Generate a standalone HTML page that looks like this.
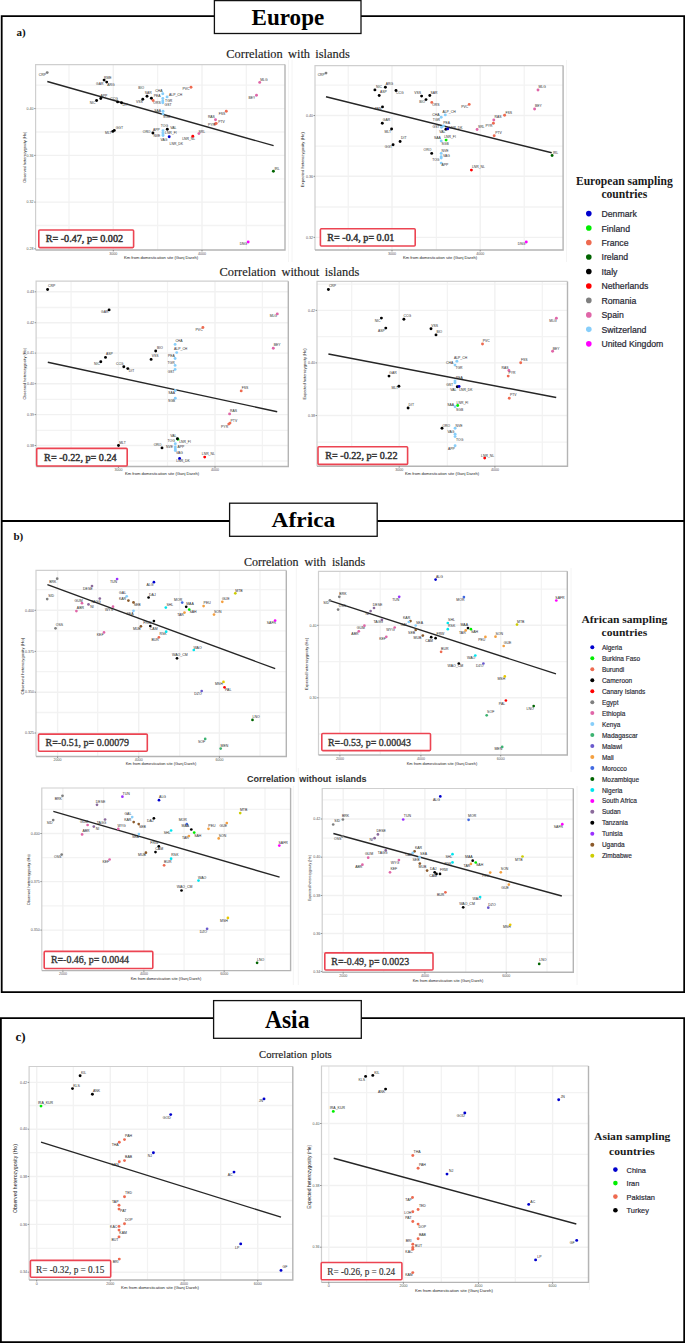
<!DOCTYPE html>
<html><head><meta charset="utf-8"><title>Correlation plots</title>
<style>
html,body{margin:0;padding:0;background:#fff;}
body{width:685px;height:1343px;overflow:hidden;position:relative;}
svg{position:absolute;left:0;top:0;display:block;}
</style></head><body>
<svg width="685" height="1343" viewBox="0 0 685 1343">
<rect x="0" y="0" width="685" height="1343" fill="#fff"/>
<line x1="288.5" y1="60" x2="288.5" y2="262" stroke="#f1f1f1" stroke-width="0.8" />
<line x1="292" y1="60" x2="292" y2="262" stroke="#f1f1f1" stroke-width="0.8" />
<line x1="566.5" y1="60" x2="566.5" y2="262" stroke="#f1f1f1" stroke-width="0.8" />
<line x1="296.3" y1="568" x2="296.3" y2="772" stroke="#f1f1f1" stroke-width="0.8" />
<line x1="571" y1="568" x2="571" y2="772" stroke="#f1f1f1" stroke-width="0.8" />
<line x1="293.3" y1="786" x2="293.3" y2="985" stroke="#f1f1f1" stroke-width="0.8" />
<line x1="298.3" y1="768" x2="298.3" y2="985" stroke="#f1f1f1" stroke-width="0.8" />
<line x1="577" y1="786" x2="577" y2="985" stroke="#f1f1f1" stroke-width="0.8" />
<line x1="589.4" y1="1115" x2="589.4" y2="1290" stroke="#f1f1f1" stroke-width="0.8" />
<path d="M1.7 992.1 L1.7 16.2 L684.2 16.2 L684.2 992.1 Z" stroke="#000" stroke-width="1.8" fill="none"/>
<line x1="1.7" y1="521" x2="684.2" y2="521" stroke="#000" stroke-width="1.8" />
<path d="M0.9 1342.1 L0.9 1018.2 L684.2 1018.2 L684.2 1342.1 Z" stroke="#000" stroke-width="1.8" fill="none"/>
<rect x="214.4" y="0.6" width="146.6" height="32.9" stroke="#111" stroke-width="1.3" fill="#fff" />
<text x="251.6" y="24.7" font-family="Liberation Serif" font-size="22.4" font-weight="bold" fill="#000" text-anchor="start" textLength="72.6" lengthAdjust="spacingAndGlyphs">Europe</text>
<rect x="229.6" y="503.2" width="147.6" height="33.099999999999966" stroke="#111" stroke-width="1.3" fill="#fff" />
<text x="271.6" y="526.6" font-family="Liberation Serif" font-size="22.0" font-weight="bold" fill="#000" text-anchor="start" textLength="63.6" lengthAdjust="spacingAndGlyphs">Africa</text>
<rect x="213.6" y="1000.6" width="147.70000000000002" height="37.69999999999993" stroke="#111" stroke-width="1.3" fill="#fff" />
<text x="264.9" y="1028.1" font-family="Liberation Serif" font-size="25.0" font-weight="bold" fill="#000" text-anchor="start" textLength="44.6" lengthAdjust="spacingAndGlyphs">Asia</text>
<text x="16.4" y="36.3" font-family="Liberation Serif" font-size="11" font-weight="bold" fill="#111" text-anchor="start" >a)</text>
<text x="13.4" y="539.8" font-family="Liberation Serif" font-size="11" font-weight="bold" fill="#111" text-anchor="start" >b)</text>
<text x="15.6" y="1041.0" font-family="Liberation Serif" font-size="13.0" font-weight="bold" fill="#111" text-anchor="start" >c)</text>
<text x="226.3" y="58.0" font-family="Liberation Serif" font-size="12.4" font-weight="normal" fill="#222" text-anchor="start" style="word-spacing:2.2px" stroke="#222" stroke-width="0.15">Correlation with islands</text>
<text x="219.5" y="275.8" font-family="Liberation Serif" font-size="12.4" font-weight="normal" fill="#222" text-anchor="start" style="word-spacing:2.4px" stroke="#222" stroke-width="0.15">Correlation without islands</text>
<text x="243.9" y="565.9" font-family="Liberation Serif" font-size="12.0" font-weight="normal" fill="#222" text-anchor="start" style="word-spacing:3.0px" stroke="#222" stroke-width="0.15">Correlation with islands</text>
<text x="247.0" y="782.2" font-family="Liberation Sans" font-size="9.0" font-weight="bold" fill="#333" text-anchor="start" style="word-spacing:1.7px" stroke="#333" stroke-width="0.05">Correlation without islands</text>
<text x="259.1" y="1057.5" font-family="Liberation Serif" font-size="10.6" font-weight="normal" fill="#222" text-anchor="start" style="word-spacing:1.1px" stroke="#222" stroke-width="0.15">Correlation plots</text>
<text x="575.9" y="185.4" font-family="Liberation Serif" font-size="11.6" font-weight="bold" fill="#1a1a1a" text-anchor="start" textLength="96.8" lengthAdjust="spacingAndGlyphs">European sampling</text>
<text x="601.4" y="197.7" font-family="Liberation Serif" font-size="11.6" font-weight="bold" fill="#1a1a1a" text-anchor="start" textLength="45.9" lengthAdjust="spacingAndGlyphs">countries</text>
<circle cx="588.8" cy="213.6" r="2.8" fill="#0000cd"/>
<text x="601.5" y="217.07999999999998" font-family="Liberation Sans" font-size="8.7" font-weight="normal" fill="#2a2a35" text-anchor="start" stroke="#2a2a35" stroke-width="0.22">Denmark</text>
<circle cx="588.8" cy="228.07" r="2.8" fill="#00ee00"/>
<text x="601.5" y="231.54999999999998" font-family="Liberation Sans" font-size="8.7" font-weight="normal" fill="#2a2a35" text-anchor="start" stroke="#2a2a35" stroke-width="0.22">Finland</text>
<circle cx="588.8" cy="242.54" r="2.8" fill="#ee6a50"/>
<text x="601.5" y="246.01999999999998" font-family="Liberation Sans" font-size="8.7" font-weight="normal" fill="#2a2a35" text-anchor="start" stroke="#2a2a35" stroke-width="0.22">France</text>
<circle cx="588.8" cy="257.01" r="2.8" fill="#006400"/>
<text x="601.5" y="260.49" font-family="Liberation Sans" font-size="8.7" font-weight="normal" fill="#2a2a35" text-anchor="start" stroke="#2a2a35" stroke-width="0.22">Ireland</text>
<circle cx="588.8" cy="271.48" r="2.8" fill="#000000"/>
<text x="601.5" y="274.96000000000004" font-family="Liberation Sans" font-size="8.7" font-weight="normal" fill="#2a2a35" text-anchor="start" stroke="#2a2a35" stroke-width="0.22">Italy</text>
<circle cx="588.8" cy="285.95" r="2.8" fill="#ff0000"/>
<text x="601.5" y="289.43" font-family="Liberation Sans" font-size="8.7" font-weight="normal" fill="#2a2a35" text-anchor="start" stroke="#2a2a35" stroke-width="0.22">Netherlands</text>
<circle cx="588.8" cy="300.42" r="2.8" fill="#7f7f7f"/>
<text x="601.5" y="303.90000000000003" font-family="Liberation Sans" font-size="8.7" font-weight="normal" fill="#2a2a35" text-anchor="start" stroke="#2a2a35" stroke-width="0.22">Romania</text>
<circle cx="588.8" cy="314.89" r="2.8" fill="#e066a8"/>
<text x="601.5" y="318.37" font-family="Liberation Sans" font-size="8.7" font-weight="normal" fill="#2a2a35" text-anchor="start" stroke="#2a2a35" stroke-width="0.22">Spain</text>
<circle cx="588.8" cy="329.36" r="2.8" fill="#87cefa"/>
<text x="601.5" y="332.84000000000003" font-family="Liberation Sans" font-size="8.7" font-weight="normal" fill="#2a2a35" text-anchor="start" stroke="#2a2a35" stroke-width="0.22">Switzerland</text>
<circle cx="588.8" cy="343.83000000000004" r="2.8" fill="#ff00ff"/>
<text x="601.5" y="347.31000000000006" font-family="Liberation Sans" font-size="8.7" font-weight="normal" fill="#2a2a35" text-anchor="start" stroke="#2a2a35" stroke-width="0.22">United Kingdom</text>
<text x="581.4" y="623.0" font-family="Liberation Serif" font-size="10.6" font-weight="bold" fill="#1a1a1a" text-anchor="start" textLength="86.0" lengthAdjust="spacingAndGlyphs">African sampling</text>
<text x="601.6" y="635.6" font-family="Liberation Serif" font-size="10.6" font-weight="bold" fill="#1a1a1a" text-anchor="start" textLength="45.6" lengthAdjust="spacingAndGlyphs">countries</text>
<circle cx="592.3" cy="647.3" r="2.0" fill="#0000cd"/>
<text x="601.9" y="649.9" font-family="Liberation Sans" font-size="6.5" font-weight="normal" fill="#2a2a35" text-anchor="start" stroke="#2a2a35" stroke-width="0.16">Algeria</text>
<circle cx="592.3" cy="658.27" r="2.0" fill="#00ee00"/>
<text x="601.9" y="660.87" font-family="Liberation Sans" font-size="6.5" font-weight="normal" fill="#2a2a35" text-anchor="start" stroke="#2a2a35" stroke-width="0.16">Burkina Faso</text>
<circle cx="592.3" cy="669.24" r="2.0" fill="#ee6a50"/>
<text x="601.9" y="671.84" font-family="Liberation Sans" font-size="6.5" font-weight="normal" fill="#2a2a35" text-anchor="start" stroke="#2a2a35" stroke-width="0.16">Burundi</text>
<circle cx="592.3" cy="680.2099999999999" r="2.0" fill="#000000"/>
<text x="601.9" y="682.81" font-family="Liberation Sans" font-size="6.5" font-weight="normal" fill="#2a2a35" text-anchor="start" stroke="#2a2a35" stroke-width="0.16">Cameroon</text>
<circle cx="592.3" cy="691.18" r="2.0" fill="#ff0000"/>
<text x="601.9" y="693.78" font-family="Liberation Sans" font-size="6.5" font-weight="normal" fill="#2a2a35" text-anchor="start" stroke="#2a2a35" stroke-width="0.16">Canary Islands</text>
<circle cx="592.3" cy="702.15" r="2.0" fill="#7f7f7f"/>
<text x="601.9" y="704.75" font-family="Liberation Sans" font-size="6.5" font-weight="normal" fill="#2a2a35" text-anchor="start" stroke="#2a2a35" stroke-width="0.16">Egypt</text>
<circle cx="592.3" cy="713.12" r="2.0" fill="#e066a8"/>
<text x="601.9" y="715.72" font-family="Liberation Sans" font-size="6.5" font-weight="normal" fill="#2a2a35" text-anchor="start" stroke="#2a2a35" stroke-width="0.16">Ethiopia</text>
<circle cx="592.3" cy="724.0899999999999" r="2.0" fill="#87cefa"/>
<text x="601.9" y="726.6899999999999" font-family="Liberation Sans" font-size="6.5" font-weight="normal" fill="#2a2a35" text-anchor="start" stroke="#2a2a35" stroke-width="0.16">Kenya</text>
<circle cx="592.3" cy="735.06" r="2.0" fill="#3cb371"/>
<text x="601.9" y="737.66" font-family="Liberation Sans" font-size="6.5" font-weight="normal" fill="#2a2a35" text-anchor="start" stroke="#2a2a35" stroke-width="0.16">Madagascar</text>
<circle cx="592.3" cy="746.03" r="2.0" fill="#6a5acd"/>
<text x="601.9" y="748.63" font-family="Liberation Sans" font-size="6.5" font-weight="normal" fill="#2a2a35" text-anchor="start" stroke="#2a2a35" stroke-width="0.16">Malawi</text>
<circle cx="592.3" cy="757.0" r="2.0" fill="#f4a040"/>
<text x="601.9" y="759.6" font-family="Liberation Sans" font-size="6.5" font-weight="normal" fill="#2a2a35" text-anchor="start" stroke="#2a2a35" stroke-width="0.16">Mali</text>
<circle cx="592.3" cy="767.9699999999999" r="2.0" fill="#4169e1"/>
<text x="601.9" y="770.5699999999999" font-family="Liberation Sans" font-size="6.5" font-weight="normal" fill="#2a2a35" text-anchor="start" stroke="#2a2a35" stroke-width="0.16">Morocco</text>
<circle cx="592.3" cy="778.9399999999999" r="2.0" fill="#006400"/>
<text x="601.9" y="781.54" font-family="Liberation Sans" font-size="6.5" font-weight="normal" fill="#2a2a35" text-anchor="start" stroke="#2a2a35" stroke-width="0.16">Mozambique</text>
<circle cx="592.3" cy="789.91" r="2.0" fill="#00e5ee"/>
<text x="601.9" y="792.51" font-family="Liberation Sans" font-size="6.5" font-weight="normal" fill="#2a2a35" text-anchor="start" stroke="#2a2a35" stroke-width="0.16">Nigeria</text>
<circle cx="592.3" cy="800.88" r="2.0" fill="#ff00ff"/>
<text x="601.9" y="803.48" font-family="Liberation Sans" font-size="6.5" font-weight="normal" fill="#2a2a35" text-anchor="start" stroke="#2a2a35" stroke-width="0.16">South Africa</text>
<circle cx="592.3" cy="811.8499999999999" r="2.0" fill="#8b6a9b"/>
<text x="601.9" y="814.4499999999999" font-family="Liberation Sans" font-size="6.5" font-weight="normal" fill="#2a2a35" text-anchor="start" stroke="#2a2a35" stroke-width="0.16">Sudan</text>
<circle cx="592.3" cy="822.8199999999999" r="2.0" fill="#000000"/>
<text x="601.9" y="825.42" font-family="Liberation Sans" font-size="6.5" font-weight="normal" fill="#2a2a35" text-anchor="start" stroke="#2a2a35" stroke-width="0.16">Tanzania</text>
<circle cx="592.3" cy="833.79" r="2.0" fill="#9b30ff"/>
<text x="601.9" y="836.39" font-family="Liberation Sans" font-size="6.5" font-weight="normal" fill="#2a2a35" text-anchor="start" stroke="#2a2a35" stroke-width="0.16">Tunisia</text>
<circle cx="592.3" cy="844.76" r="2.0" fill="#8b5a2b"/>
<text x="601.9" y="847.36" font-family="Liberation Sans" font-size="6.5" font-weight="normal" fill="#2a2a35" text-anchor="start" stroke="#2a2a35" stroke-width="0.16">Uganda</text>
<circle cx="592.3" cy="855.73" r="2.0" fill="#cdcd00"/>
<text x="601.9" y="858.33" font-family="Liberation Sans" font-size="6.5" font-weight="normal" fill="#2a2a35" text-anchor="start" stroke="#2a2a35" stroke-width="0.16">Zimbabwe</text>
<text x="594.0" y="1140.1" font-family="Liberation Serif" font-size="11.0" font-weight="bold" fill="#1a1a1a" text-anchor="start" textLength="76.4" lengthAdjust="spacingAndGlyphs">Asian sampling</text>
<text x="609.1" y="1154.7" font-family="Liberation Serif" font-size="11.0" font-weight="bold" fill="#1a1a1a" text-anchor="start" textLength="45.7" lengthAdjust="spacingAndGlyphs">countries</text>
<circle cx="615.4" cy="1169.6" r="2.3" fill="#0000cd"/>
<text x="626.6" y="1172.56" font-family="Liberation Sans" font-size="7.4" font-weight="normal" fill="#2a2a35" text-anchor="start" stroke="#2a2a35" stroke-width="0.19">China</text>
<circle cx="615.4" cy="1183.1" r="2.3" fill="#00ee00"/>
<text x="626.6" y="1186.06" font-family="Liberation Sans" font-size="7.4" font-weight="normal" fill="#2a2a35" text-anchor="start" stroke="#2a2a35" stroke-width="0.19">Iran</text>
<circle cx="615.4" cy="1196.6" r="2.3" fill="#ee6a50"/>
<text x="626.6" y="1199.56" font-family="Liberation Sans" font-size="7.4" font-weight="normal" fill="#2a2a35" text-anchor="start" stroke="#2a2a35" stroke-width="0.19">Pakistan</text>
<circle cx="615.4" cy="1210.2" r="2.3" fill="#000000"/>
<text x="626.6" y="1213.16" font-family="Liberation Sans" font-size="7.4" font-weight="normal" fill="#2a2a35" text-anchor="start" stroke="#2a2a35" stroke-width="0.19">Turkey</text>
<line x1="69.0" y1="64.6" x2="69.0" y2="250.0" stroke="#f3f3f3" stroke-width="1.3" />
<line x1="157.6" y1="64.6" x2="157.6" y2="250.0" stroke="#f3f3f3" stroke-width="1.3" />
<line x1="246.3" y1="64.6" x2="246.3" y2="250.0" stroke="#f3f3f3" stroke-width="1.3" />
<line x1="35.6" y1="85.2" x2="285.0" y2="85.2" stroke="#f3f3f3" stroke-width="1.3" />
<line x1="35.6" y1="132.0" x2="285.0" y2="132.0" stroke="#f3f3f3" stroke-width="1.3" />
<line x1="35.6" y1="178.8" x2="285.0" y2="178.8" stroke="#f3f3f3" stroke-width="1.3" />
<line x1="35.6" y1="225.5" x2="285.0" y2="225.5" stroke="#f3f3f3" stroke-width="1.3" />
<line x1="113.3" y1="64.6" x2="113.3" y2="250.0" stroke="#f1f1f1" stroke-width="1.4" />
<line x1="202.0" y1="64.6" x2="202.0" y2="250.0" stroke="#f1f1f1" stroke-width="1.4" />
<line x1="35.6" y1="108.6" x2="285.0" y2="108.6" stroke="#f1f1f1" stroke-width="1.4" />
<line x1="35.6" y1="155.4" x2="285.0" y2="155.4" stroke="#f1f1f1" stroke-width="1.4" />
<line x1="35.6" y1="202.1" x2="285.0" y2="202.1" stroke="#f1f1f1" stroke-width="1.4" />
<path d="M35.6 250.0 L35.6 64.6 L285.0 64.6" stroke="#cfcfcf" stroke-width="1.2" fill="none"/>
<path d="M285.0 64.6 L285.0 250.0 L35.6 250.0" stroke="#b4b4b4" stroke-width="1.4" fill="none"/>
<line x1="34.1" y1="108.6" x2="35.6" y2="108.6" stroke="#555" stroke-width="0.6" />
<text x="33.6" y="109.8" font-family="Liberation Sans" font-size="3.6" font-weight="normal" fill="#555" text-anchor="end" >0.40</text>
<line x1="34.1" y1="155.4" x2="35.6" y2="155.4" stroke="#555" stroke-width="0.6" />
<text x="33.6" y="156.6" font-family="Liberation Sans" font-size="3.6" font-weight="normal" fill="#555" text-anchor="end" >0.36</text>
<line x1="34.1" y1="202.1" x2="35.6" y2="202.1" stroke="#555" stroke-width="0.6" />
<text x="33.6" y="203.29999999999998" font-family="Liberation Sans" font-size="3.6" font-weight="normal" fill="#555" text-anchor="end" >0.32</text>
<line x1="34.1" y1="248.8" x2="35.6" y2="248.8" stroke="#555" stroke-width="0.6" />
<text x="33.6" y="250.0" font-family="Liberation Sans" font-size="3.6" font-weight="normal" fill="#555" text-anchor="end" >0.28</text>
<line x1="113.3" y1="250.0" x2="113.3" y2="251.5" stroke="#555" stroke-width="0.6" />
<text x="113.3" y="254.6" font-family="Liberation Sans" font-size="3.6" font-weight="normal" fill="#555" text-anchor="middle" >3000</text>
<line x1="202.0" y1="250.0" x2="202.0" y2="251.5" stroke="#555" stroke-width="0.6" />
<text x="202.0" y="254.6" font-family="Liberation Sans" font-size="3.6" font-weight="normal" fill="#555" text-anchor="middle" >4000</text>
<text x="25.6" y="157.2" font-family="Liberation Sans" font-size="4.1" font-weight="normal" fill="#222" text-anchor="middle" transform="rotate(-90 25.6 157.2)" textLength="51" lengthAdjust="spacingAndGlyphs">Observed heterozygosity (Ho)</text>
<text x="161" y="259.0" font-family="Liberation Sans" font-size="4.1" font-weight="normal" fill="#222" text-anchor="middle" >Km from domestication site (Ganj Dareh)</text>
<line x1="47.3" y1="81.5" x2="273.6" y2="145.7" stroke="#262626" stroke-width="1.4" />
<text x="46.0" y="75.6" font-family="Liberation Sans" font-size="3.4" font-weight="normal" fill="#2a2a2a" text-anchor="end" >CRP</text>
<circle cx="47.2" cy="72.6" r="1.45" fill="#7f7f7f"/>
<text x="104.1" y="78.8" font-family="Liberation Sans" font-size="3.4" font-weight="normal" fill="#2a2a2a" text-anchor="start" >RME</text>
<circle cx="104.1" cy="80.1" r="1.45" fill="#000000"/>
<text x="107.2" y="85.5" font-family="Liberation Sans" font-size="3.4" font-weight="normal" fill="#2a2a2a" text-anchor="start" >ARG</text>
<circle cx="106.7" cy="82.1" r="1.45" fill="#000000"/>
<text x="103.39999999999999" y="85.0" font-family="Liberation Sans" font-size="3.4" font-weight="normal" fill="#2a2a2a" text-anchor="end" >GAR</text>
<text x="95.5" y="104.0" font-family="Liberation Sans" font-size="3.4" font-weight="normal" fill="#2a2a2a" text-anchor="end" >NIC</text>
<circle cx="96.6" cy="100.5" r="1.45" fill="#000000"/>
<text x="100.5" y="96.5" font-family="Liberation Sans" font-size="3.4" font-weight="normal" fill="#2a2a2a" text-anchor="start" >APP</text>
<circle cx="100.8" cy="98.5" r="1.45" fill="#000000"/>
<text x="117.8" y="99.7" font-family="Liberation Sans" font-size="3.4" font-weight="normal" fill="#2a2a2a" text-anchor="end" >CCG</text>
<circle cx="117.6" cy="101.9" r="1.45" fill="#000000"/>
<text x="122.4" y="106.0" font-family="Liberation Sans" font-size="3.4" font-weight="normal" fill="#2a2a2a" text-anchor="start" >DIT</text>
<circle cx="121.5" cy="102.8" r="1.45" fill="#000000"/>
<text x="138.2" y="89.0" font-family="Liberation Sans" font-size="3.4" font-weight="normal" fill="#2a2a2a" text-anchor="start" >BIO</text>
<circle cx="147" cy="96.3" r="1.45" fill="#000000"/>
<text x="144.8" y="93.5" font-family="Liberation Sans" font-size="3.4" font-weight="normal" fill="#2a2a2a" text-anchor="start" >SAR</text>
<circle cx="151.4" cy="98.2" r="1.45" fill="#000000"/>
<text x="142.8" y="102.5" font-family="Liberation Sans" font-size="3.4" font-weight="normal" fill="#2a2a2a" text-anchor="end" >VSS</text>
<circle cx="142.8" cy="99.2" r="1.45" fill="#000000"/>
<text x="153.29999999999998" y="104.0" font-family="Liberation Sans" font-size="3.4" font-weight="normal" fill="#2a2a2a" text-anchor="start" >ORS</text>
<circle cx="153.1" cy="100.5" r="1.45" fill="#ee6a50"/>
<text x="162.5" y="91.5" font-family="Liberation Sans" font-size="3.4" font-weight="normal" fill="#2a2a2a" text-anchor="end" >CHA</text>
<circle cx="162.8" cy="93.7" r="1.45" fill="#87cefa"/>
<text x="169.0" y="96.0" font-family="Liberation Sans" font-size="3.4" font-weight="normal" fill="#2a2a2a" text-anchor="start" >ALP_CH</text>
<circle cx="167.1" cy="96.9" r="1.45" fill="#87cefa"/>
<text x="160.5" y="97.0" font-family="Liberation Sans" font-size="3.4" font-weight="normal" fill="#2a2a2a" text-anchor="end" >PEA</text>
<circle cx="162.8" cy="98.5" r="1.45" fill="#87cefa"/>
<text x="165.10000000000002" y="101.5" font-family="Liberation Sans" font-size="3.4" font-weight="normal" fill="#2a2a2a" text-anchor="start" >TGR</text>
<circle cx="162.8" cy="100.9" r="1.45" fill="#87cefa"/>
<text x="164.5" y="106.0" font-family="Liberation Sans" font-size="3.4" font-weight="normal" fill="#2a2a2a" text-anchor="start" >GST</text>
<circle cx="162.8" cy="102.8" r="1.45" fill="#87cefa"/>
<text x="161" y="112.2" font-family="Liberation Sans" font-size="3.4" font-weight="normal" fill="#2a2a2a" text-anchor="end" >SAA</text>
<circle cx="163" cy="111.2" r="1.45" fill="#87cefa"/>
<text x="163" y="118.0" font-family="Liberation Sans" font-size="3.4" font-weight="normal" fill="#2a2a2a" text-anchor="start" >SGB</text>
<circle cx="163" cy="113.9" r="1.45" fill="#87cefa"/>
<text x="160.8" y="126.5" font-family="Liberation Sans" font-size="3.4" font-weight="normal" fill="#2a2a2a" text-anchor="start" >TOG</text>
<circle cx="163" cy="130.6" r="1.45" fill="#87cefa"/>
<text x="159.7" y="130.5" font-family="Liberation Sans" font-size="3.4" font-weight="normal" fill="#2a2a2a" text-anchor="end" >APP</text>
<circle cx="163" cy="132.6" r="1.45" fill="#87cefa"/>
<text x="160.4" y="136.5" font-family="Liberation Sans" font-size="3.4" font-weight="normal" fill="#2a2a2a" text-anchor="end" >NVE</text>
<circle cx="163" cy="133.9" r="1.45" fill="#87cefa"/>
<text x="160.4" y="141.0" font-family="Liberation Sans" font-size="3.4" font-weight="normal" fill="#2a2a2a" text-anchor="start" >VAG</text>
<circle cx="163" cy="135.5" r="1.45" fill="#87cefa"/>
<text x="170.20000000000002" y="129.0" font-family="Liberation Sans" font-size="3.4" font-weight="normal" fill="#2a2a2a" text-anchor="start" >VAL</text>
<circle cx="167.3" cy="129.3" r="1.45" fill="#000000"/>
<text x="165.0" y="134.0" font-family="Liberation Sans" font-size="3.4" font-weight="normal" fill="#2a2a2a" text-anchor="start" >LNR_FI</text>
<text x="150.5" y="132.5" font-family="Liberation Sans" font-size="3.4" font-weight="normal" fill="#2a2a2a" text-anchor="end" >ORO</text>
<circle cx="152.9" cy="133" r="1.45" fill="#000000"/>
<text x="169.6" y="144.5" font-family="Liberation Sans" font-size="3.4" font-weight="normal" fill="#2a2a2a" text-anchor="start" >LNR_DK</text>
<circle cx="169.2" cy="136.8" r="1.45" fill="#0000cd"/>
<text x="195.20000000000002" y="139.9" font-family="Liberation Sans" font-size="3.4" font-weight="normal" fill="#2a2a2a" text-anchor="end" >LNR_NL</text>
<circle cx="192.8" cy="136.3" r="1.45" fill="#ff0000"/>
<text x="198.5" y="132.5" font-family="Liberation Sans" font-size="3.4" font-weight="normal" fill="#2a2a2a" text-anchor="start" >SRL</text>
<circle cx="198.9" cy="133.6" r="1.45" fill="#e066a8"/>
<text x="214.9" y="117.5" font-family="Liberation Sans" font-size="3.4" font-weight="normal" fill="#2a2a2a" text-anchor="end" >RAS</text>
<circle cx="215.5" cy="119.8" r="1.45" fill="#e066a8"/>
<circle cx="215.2" cy="124" r="1.45" fill="#ee6a50"/>
<text x="218.2" y="122.5" font-family="Liberation Sans" font-size="3.4" font-weight="normal" fill="#2a2a2a" text-anchor="start" >PTV</text>
<circle cx="216.2" cy="123.4" r="1.45" fill="#ee6a50"/>
<text x="214.89999999999998" y="126.3" font-family="Liberation Sans" font-size="3.4" font-weight="normal" fill="#2a2a2a" text-anchor="end" >PYR</text>
<text x="225.4" y="114.5" font-family="Liberation Sans" font-size="3.4" font-weight="normal" fill="#2a2a2a" text-anchor="end" >FSS</text>
<circle cx="226.3" cy="111.2" r="1.45" fill="#ee6a50"/>
<text x="111.6" y="134.20000000000002" font-family="Liberation Sans" font-size="3.4" font-weight="normal" fill="#2a2a2a" text-anchor="end" >MLT</text>
<circle cx="112.8" cy="131.4" r="1.45" fill="#000000"/>
<text x="115.7" y="128.9" font-family="Liberation Sans" font-size="3.4" font-weight="normal" fill="#2a2a2a" text-anchor="start" >GGT</text>
<circle cx="114.3" cy="130.4" r="1.45" fill="#000000"/>
<text x="189.5" y="90.1" font-family="Liberation Sans" font-size="3.4" font-weight="normal" fill="#2a2a2a" text-anchor="end" >PVC</text>
<circle cx="191" cy="87.3" r="1.45" fill="#ee6a50"/>
<text x="260.2" y="80.9" font-family="Liberation Sans" font-size="3.4" font-weight="normal" fill="#2a2a2a" text-anchor="start" >MLG</text>
<circle cx="259.7" cy="82.4" r="1.45" fill="#e066a8"/>
<text x="255.3" y="98.5" font-family="Liberation Sans" font-size="3.4" font-weight="normal" fill="#2a2a2a" text-anchor="end" >BEY</text>
<circle cx="256.5" cy="95.3" r="1.45" fill="#e066a8"/>
<text x="274.4" y="170.10000000000002" font-family="Liberation Sans" font-size="3.4" font-weight="normal" fill="#2a2a2a" text-anchor="start" >IRL</text>
<circle cx="273.4" cy="171.3" r="1.45" fill="#006400"/>
<text x="247.2" y="244.8" font-family="Liberation Sans" font-size="3.4" font-weight="normal" fill="#2a2a2a" text-anchor="end" >DNG</text>
<circle cx="248.2" cy="242" r="1.45" fill="#ff00ff"/>
<rect x="38.8" y="230.0" width="94.8" height="17.599999999999994" stroke="#ec4452" stroke-width="1.6" fill="#fff" rx="1"/>
<text x="45.7" y="242.2" font-family="Liberation Serif" font-size="10.0" font-weight="normal" fill="#333" text-anchor="start" textLength="77.4" lengthAdjust="spacingAndGlyphs" stroke="#333" stroke-width="0.45">R= -0.47, p= 0.002</text>
<line x1="348.2" y1="65.6" x2="348.2" y2="250.0" stroke="#f3f3f3" stroke-width="1.3" />
<line x1="436.4" y1="65.6" x2="436.4" y2="250.0" stroke="#f3f3f3" stroke-width="1.3" />
<line x1="524.2" y1="65.6" x2="524.2" y2="250.0" stroke="#f3f3f3" stroke-width="1.3" />
<line x1="315.0" y1="85.2" x2="563.1" y2="85.2" stroke="#f3f3f3" stroke-width="1.3" />
<line x1="315.0" y1="146.2" x2="563.1" y2="146.2" stroke="#f3f3f3" stroke-width="1.3" />
<line x1="315.0" y1="207.0" x2="563.1" y2="207.0" stroke="#f3f3f3" stroke-width="1.3" />
<line x1="392.0" y1="65.6" x2="392.0" y2="250.0" stroke="#f1f1f1" stroke-width="1.4" />
<line x1="480.2" y1="65.6" x2="480.2" y2="250.0" stroke="#f1f1f1" stroke-width="1.4" />
<line x1="315.0" y1="115.5" x2="563.1" y2="115.5" stroke="#f1f1f1" stroke-width="1.4" />
<line x1="315.0" y1="176.3" x2="563.1" y2="176.3" stroke="#f1f1f1" stroke-width="1.4" />
<line x1="315.0" y1="237.4" x2="563.1" y2="237.4" stroke="#f1f1f1" stroke-width="1.4" />
<path d="M315.0 250.0 L315.0 65.6 L563.1 65.6" stroke="#cfcfcf" stroke-width="1.2" fill="none"/>
<path d="M563.1 65.6 L563.1 250.0 L315.0 250.0" stroke="#b4b4b4" stroke-width="1.4" fill="none"/>
<line x1="313.5" y1="115.5" x2="315.0" y2="115.5" stroke="#555" stroke-width="0.6" />
<text x="313.0" y="116.7" font-family="Liberation Sans" font-size="3.6" font-weight="normal" fill="#555" text-anchor="end" >0.40</text>
<line x1="313.5" y1="176.3" x2="315.0" y2="176.3" stroke="#555" stroke-width="0.6" />
<text x="313.0" y="177.5" font-family="Liberation Sans" font-size="3.6" font-weight="normal" fill="#555" text-anchor="end" >0.36</text>
<line x1="313.5" y1="237.4" x2="315.0" y2="237.4" stroke="#555" stroke-width="0.6" />
<text x="313.0" y="238.6" font-family="Liberation Sans" font-size="3.6" font-weight="normal" fill="#555" text-anchor="end" >0.32</text>
<line x1="392.0" y1="250.0" x2="392.0" y2="251.5" stroke="#555" stroke-width="0.6" />
<text x="392.0" y="254.6" font-family="Liberation Sans" font-size="3.6" font-weight="normal" fill="#555" text-anchor="middle" >3000</text>
<line x1="480.2" y1="250.0" x2="480.2" y2="251.5" stroke="#555" stroke-width="0.6" />
<text x="480.2" y="254.6" font-family="Liberation Sans" font-size="3.6" font-weight="normal" fill="#555" text-anchor="middle" >4000</text>
<text x="304.1" y="159.7" font-family="Liberation Sans" font-size="4.2" font-weight="normal" fill="#222" text-anchor="middle" transform="rotate(-90 304.1 159.7)" textLength="55" lengthAdjust="spacingAndGlyphs">Expected heterozygosity (He)</text>
<text x="440" y="259.0" font-family="Liberation Sans" font-size="4.1" font-weight="normal" fill="#222" text-anchor="middle" >Km from domestication site (Ganj Dareh)</text>
<line x1="326" y1="96.8" x2="551.7" y2="152.8" stroke="#262626" stroke-width="1.4" />
<text x="324.8" y="76.3" font-family="Liberation Sans" font-size="3.4" font-weight="normal" fill="#2a2a2a" text-anchor="end" >CRP</text>
<circle cx="326" cy="73.1" r="1.45" fill="#7f7f7f"/>
<text x="376.09999999999997" y="87.9" font-family="Liberation Sans" font-size="3.4" font-weight="normal" fill="#2a2a2a" text-anchor="start" >NIC</text>
<circle cx="374.9" cy="89.9" r="1.45" fill="#000000"/>
<text x="385.79999999999995" y="85.2" font-family="Liberation Sans" font-size="3.4" font-weight="normal" fill="#2a2a2a" text-anchor="start" >ARG</text>
<circle cx="385.4" cy="87.2" r="1.45" fill="#000000"/>
<text x="380.0" y="93.3" font-family="Liberation Sans" font-size="3.4" font-weight="normal" fill="#2a2a2a" text-anchor="start" >ASP</text>
<circle cx="379.2" cy="95.5" r="1.45" fill="#000000"/>
<text x="396" y="94.4" font-family="Liberation Sans" font-size="3.4" font-weight="normal" fill="#2a2a2a" text-anchor="start" >CCG</text>
<circle cx="396" cy="90.5" r="1.45" fill="#000000"/>
<text x="421.0" y="94.1" font-family="Liberation Sans" font-size="3.4" font-weight="normal" fill="#2a2a2a" text-anchor="end" >VSS</text>
<circle cx="421.6" cy="96.1" r="1.45" fill="#000000"/>
<text x="430.40000000000003" y="93.6" font-family="Liberation Sans" font-size="3.4" font-weight="normal" fill="#2a2a2a" text-anchor="start" >SAR</text>
<circle cx="429.8" cy="95.5" r="1.45" fill="#000000"/>
<text x="425.1" y="102.69999999999999" font-family="Liberation Sans" font-size="3.4" font-weight="normal" fill="#2a2a2a" text-anchor="end" >BIO</text>
<circle cx="426" cy="99.6" r="1.45" fill="#000000"/>
<text x="432.2" y="105.9" font-family="Liberation Sans" font-size="3.4" font-weight="normal" fill="#2a2a2a" text-anchor="start" >ORS</text>
<circle cx="431.8" cy="102.4" r="1.45" fill="#ee6a50"/>
<text x="381.5" y="110.0" font-family="Liberation Sans" font-size="3.4" font-weight="normal" fill="#2a2a2a" text-anchor="end" >PAN</text>
<circle cx="382.5" cy="106.9" r="1.45" fill="#000000"/>
<text x="382.8" y="121.2" font-family="Liberation Sans" font-size="3.4" font-weight="normal" fill="#2a2a2a" text-anchor="start" >GAR</text>
<circle cx="382.3" cy="123.2" r="1.45" fill="#000000"/>
<text x="391.0" y="132.6" font-family="Liberation Sans" font-size="3.4" font-weight="normal" fill="#2a2a2a" text-anchor="end" >MLT</text>
<circle cx="391.6" cy="129" r="1.45" fill="#000000"/>
<text x="401.0" y="139.4" font-family="Liberation Sans" font-size="3.4" font-weight="normal" fill="#2a2a2a" text-anchor="start" >DIT</text>
<circle cx="400.1" cy="141.5" r="1.45" fill="#000000"/>
<text x="392.20000000000005" y="148.39999999999998" font-family="Liberation Sans" font-size="3.4" font-weight="normal" fill="#2a2a2a" text-anchor="end" >GGT</text>
<circle cx="393.1" cy="144.7" r="1.45" fill="#000000"/>
<text x="431.3" y="151.4" font-family="Liberation Sans" font-size="3.4" font-weight="normal" fill="#2a2a2a" text-anchor="end" >ORO</text>
<circle cx="431.7" cy="153.4" r="1.45" fill="#000000"/>
<text x="439.5" y="115.8" font-family="Liberation Sans" font-size="3.4" font-weight="normal" fill="#2a2a2a" text-anchor="end" >CHA</text>
<circle cx="441.2" cy="117.2" r="1.45" fill="#87cefa"/>
<text x="442.40000000000003" y="112.60000000000001" font-family="Liberation Sans" font-size="3.4" font-weight="normal" fill="#2a2a2a" text-anchor="start" >ALP_CH</text>
<circle cx="445.3" cy="114.9" r="1.45" fill="#87cefa"/>
<text x="440.0" y="120.8" font-family="Liberation Sans" font-size="3.4" font-weight="normal" fill="#2a2a2a" text-anchor="end" >TGR</text>
<text x="439.5" y="128.3" font-family="Liberation Sans" font-size="3.4" font-weight="normal" fill="#2a2a2a" text-anchor="end" >GST</text>
<circle cx="441.5" cy="127.3" r="1.45" fill="#87cefa"/>
<text x="443.3" y="124.2" font-family="Liberation Sans" font-size="3.4" font-weight="normal" fill="#2a2a2a" text-anchor="start" >PEA</text>
<circle cx="443.5" cy="126" r="1.45" fill="#87cefa"/>
<text x="445.29999999999995" y="132.9" font-family="Liberation Sans" font-size="3.4" font-weight="normal" fill="#2a2a2a" text-anchor="end" >VAL</text>
<circle cx="445.9" cy="129.3" r="1.45" fill="#000000"/>
<text x="449.2" y="129.4" font-family="Liberation Sans" font-size="3.4" font-weight="normal" fill="#2a2a2a" text-anchor="start" >LNR_DK</text>
<circle cx="447.7" cy="128.9" r="1.45" fill="#0000cd"/>
<text x="440.7" y="139" font-family="Liberation Sans" font-size="3.4" font-weight="normal" fill="#2a2a2a" text-anchor="end" >SAA</text>
<circle cx="441.2" cy="141" r="1.45" fill="#87cefa"/>
<text x="444.20000000000005" y="137.9" font-family="Liberation Sans" font-size="3.4" font-weight="normal" fill="#2a2a2a" text-anchor="start" >LNR_FI</text>
<circle cx="446.1" cy="140.1" r="1.45" fill="#00ee00"/>
<text x="441.5" y="144.5" font-family="Liberation Sans" font-size="3.4" font-weight="normal" fill="#2a2a2a" text-anchor="start" >SGB</text>
<text x="441.5" y="151.6" font-family="Liberation Sans" font-size="3.4" font-weight="normal" fill="#2a2a2a" text-anchor="start" >NVE</text>
<circle cx="441.2" cy="153.4" r="1.45" fill="#87cefa"/>
<circle cx="441.2" cy="156.7" r="1.45" fill="#87cefa"/>
<text x="443.0" y="156.6" font-family="Liberation Sans" font-size="3.4" font-weight="normal" fill="#2a2a2a" text-anchor="start" >VAG</text>
<circle cx="441.2" cy="158.1" r="1.45" fill="#87cefa"/>
<text x="439.5" y="161.29999999999998" font-family="Liberation Sans" font-size="3.4" font-weight="normal" fill="#2a2a2a" text-anchor="end" >TOG</text>
<circle cx="441.2" cy="163.1" r="1.45" fill="#87cefa"/>
<text x="441.5" y="166.29999999999998" font-family="Liberation Sans" font-size="3.4" font-weight="normal" fill="#2a2a2a" text-anchor="start" >APP</text>
<text x="468.2" y="107.80000000000001" font-family="Liberation Sans" font-size="3.4" font-weight="normal" fill="#2a2a2a" text-anchor="end" >PVC</text>
<circle cx="469.2" cy="104.4" r="1.45" fill="#ee6a50"/>
<text x="538.5" y="88.4" font-family="Liberation Sans" font-size="3.4" font-weight="normal" fill="#2a2a2a" text-anchor="start" >MLG</text>
<circle cx="538" cy="90" r="1.45" fill="#e066a8"/>
<text x="535.1" y="107.4" font-family="Liberation Sans" font-size="3.4" font-weight="normal" fill="#2a2a2a" text-anchor="start" >BEY</text>
<circle cx="534.6" cy="109" r="1.45" fill="#e066a8"/>
<text x="505.40000000000003" y="113.60000000000001" font-family="Liberation Sans" font-size="3.4" font-weight="normal" fill="#2a2a2a" text-anchor="start" >FSS</text>
<circle cx="504.6" cy="115.2" r="1.45" fill="#ee6a50"/>
<text x="494.6" y="118.4" font-family="Liberation Sans" font-size="3.4" font-weight="normal" fill="#2a2a2a" text-anchor="start" >RAS</text>
<circle cx="493.8" cy="120" r="1.45" fill="#e066a8"/>
<text x="492.4" y="126.60000000000001" font-family="Liberation Sans" font-size="3.4" font-weight="normal" fill="#2a2a2a" text-anchor="end" >PYR</text>
<circle cx="493.4" cy="123.2" r="1.45" fill="#ee6a50"/>
<text x="477.90000000000003" y="127.9" font-family="Liberation Sans" font-size="3.4" font-weight="normal" fill="#2a2a2a" text-anchor="start" >SRL</text>
<circle cx="477.1" cy="129.5" r="1.45" fill="#e066a8"/>
<text x="495.2" y="134.1" font-family="Liberation Sans" font-size="3.4" font-weight="normal" fill="#2a2a2a" text-anchor="start" >PTV</text>
<circle cx="494.2" cy="135.7" r="1.45" fill="#ee6a50"/>
<text x="552.9" y="153.9" font-family="Liberation Sans" font-size="3.4" font-weight="normal" fill="#2a2a2a" text-anchor="start" >IRL</text>
<circle cx="552.1" cy="155.5" r="1.45" fill="#006400"/>
<text x="471.9" y="168.29999999999998" font-family="Liberation Sans" font-size="3.4" font-weight="normal" fill="#2a2a2a" text-anchor="start" >LNR_NL</text>
<circle cx="471.4" cy="170.1" r="1.45" fill="#ff0000"/>
<text x="525.3" y="245.2" font-family="Liberation Sans" font-size="3.4" font-weight="normal" fill="#2a2a2a" text-anchor="end" >DNG</text>
<circle cx="526.3" cy="242" r="1.45" fill="#ff00ff"/>
<rect x="320.4" y="228.8" width="94.80000000000001" height="17.19999999999999" stroke="#ec4452" stroke-width="1.6" fill="#fff" rx="1"/>
<text x="327.3" y="240.9" font-family="Liberation Serif" font-size="10.0" font-weight="normal" fill="#333" text-anchor="start" textLength="67.0" lengthAdjust="spacingAndGlyphs" stroke="#333" stroke-width="0.45">R= -0.4, p= 0.01</text>
<line x1="71.1" y1="281.2" x2="71.1" y2="466.5" stroke="#f3f3f3" stroke-width="1.3" />
<line x1="167.5" y1="281.2" x2="167.5" y2="466.5" stroke="#f3f3f3" stroke-width="1.3" />
<line x1="262.4" y1="281.2" x2="262.4" y2="466.5" stroke="#f3f3f3" stroke-width="1.3" />
<line x1="36.1" y1="307.5" x2="288.3" y2="307.5" stroke="#f3f3f3" stroke-width="1.3" />
<line x1="36.1" y1="337.9" x2="288.3" y2="337.9" stroke="#f3f3f3" stroke-width="1.3" />
<line x1="36.1" y1="368.2" x2="288.3" y2="368.2" stroke="#f3f3f3" stroke-width="1.3" />
<line x1="36.1" y1="399.4" x2="288.3" y2="399.4" stroke="#f3f3f3" stroke-width="1.3" />
<line x1="36.1" y1="430.3" x2="288.3" y2="430.3" stroke="#f3f3f3" stroke-width="1.3" />
<line x1="36.1" y1="461.0" x2="288.3" y2="461.0" stroke="#f3f3f3" stroke-width="1.3" />
<line x1="118.4" y1="281.2" x2="118.4" y2="466.5" stroke="#f1f1f1" stroke-width="1.4" />
<line x1="215.0" y1="281.2" x2="215.0" y2="466.5" stroke="#f1f1f1" stroke-width="1.4" />
<line x1="36.1" y1="291.8" x2="288.3" y2="291.8" stroke="#f1f1f1" stroke-width="1.4" />
<line x1="36.1" y1="322.7" x2="288.3" y2="322.7" stroke="#f1f1f1" stroke-width="1.4" />
<line x1="36.1" y1="353.1" x2="288.3" y2="353.1" stroke="#f1f1f1" stroke-width="1.4" />
<line x1="36.1" y1="383.7" x2="288.3" y2="383.7" stroke="#f1f1f1" stroke-width="1.4" />
<line x1="36.1" y1="414.6" x2="288.3" y2="414.6" stroke="#f1f1f1" stroke-width="1.4" />
<line x1="36.1" y1="445.5" x2="288.3" y2="445.5" stroke="#f1f1f1" stroke-width="1.4" />
<path d="M36.1 466.5 L36.1 281.2 L288.3 281.2" stroke="#cfcfcf" stroke-width="1.2" fill="none"/>
<path d="M288.3 281.2 L288.3 466.5 L36.1 466.5" stroke="#b4b4b4" stroke-width="1.4" fill="none"/>
<line x1="34.6" y1="291.8" x2="36.1" y2="291.8" stroke="#555" stroke-width="0.6" />
<text x="34.1" y="293.0" font-family="Liberation Sans" font-size="3.6" font-weight="normal" fill="#555" text-anchor="end" >0.43</text>
<line x1="34.6" y1="322.7" x2="36.1" y2="322.7" stroke="#555" stroke-width="0.6" />
<text x="34.1" y="323.9" font-family="Liberation Sans" font-size="3.6" font-weight="normal" fill="#555" text-anchor="end" >0.42</text>
<line x1="34.6" y1="353.1" x2="36.1" y2="353.1" stroke="#555" stroke-width="0.6" />
<text x="34.1" y="354.3" font-family="Liberation Sans" font-size="3.6" font-weight="normal" fill="#555" text-anchor="end" >0.41</text>
<line x1="34.6" y1="383.7" x2="36.1" y2="383.7" stroke="#555" stroke-width="0.6" />
<text x="34.1" y="384.9" font-family="Liberation Sans" font-size="3.6" font-weight="normal" fill="#555" text-anchor="end" >0.40</text>
<line x1="34.6" y1="414.6" x2="36.1" y2="414.6" stroke="#555" stroke-width="0.6" />
<text x="34.1" y="415.8" font-family="Liberation Sans" font-size="3.6" font-weight="normal" fill="#555" text-anchor="end" >0.39</text>
<line x1="34.6" y1="445.5" x2="36.1" y2="445.5" stroke="#555" stroke-width="0.6" />
<text x="34.1" y="446.7" font-family="Liberation Sans" font-size="3.6" font-weight="normal" fill="#555" text-anchor="end" >0.38</text>
<line x1="118.4" y1="466.5" x2="118.4" y2="468.0" stroke="#555" stroke-width="0.6" />
<text x="118.4" y="471.1" font-family="Liberation Sans" font-size="3.6" font-weight="normal" fill="#555" text-anchor="middle" >3000</text>
<line x1="215.0" y1="466.5" x2="215.0" y2="468.0" stroke="#555" stroke-width="0.6" />
<text x="215.0" y="471.1" font-family="Liberation Sans" font-size="3.6" font-weight="normal" fill="#555" text-anchor="middle" >4000</text>
<text x="26.4" y="373.8" font-family="Liberation Sans" font-size="4.1" font-weight="normal" fill="#222" text-anchor="middle" transform="rotate(-90 26.4 373.8)" textLength="51.5" lengthAdjust="spacingAndGlyphs">Observed heterozygosity (Ho)</text>
<text x="162" y="475.0" font-family="Liberation Sans" font-size="4.1" font-weight="normal" fill="#222" text-anchor="middle" >Km from domestication site (Ganj Dareh)</text>
<line x1="47.8" y1="362.2" x2="277.2" y2="411.7" stroke="#262626" stroke-width="1.4" />
<text x="48.1" y="287.3" font-family="Liberation Sans" font-size="3.4" font-weight="normal" fill="#2a2a2a" text-anchor="start" >CRP</text>
<circle cx="47.6" cy="289.5" r="1.45" fill="#000000"/>
<text x="108.39999999999999" y="313.29999999999995" font-family="Liberation Sans" font-size="3.4" font-weight="normal" fill="#2a2a2a" text-anchor="end" >GAR</text>
<circle cx="109.1" cy="309.9" r="1.45" fill="#000000"/>
<text x="106.0" y="355.0" font-family="Liberation Sans" font-size="3.4" font-weight="normal" fill="#2a2a2a" text-anchor="start" >ASP</text>
<circle cx="105.5" cy="357.4" r="1.45" fill="#000000"/>
<text x="99.89999999999999" y="365.40000000000003" font-family="Liberation Sans" font-size="3.4" font-weight="normal" fill="#2a2a2a" text-anchor="end" >NIC</text>
<circle cx="100.8" cy="361.8" r="1.45" fill="#000000"/>
<text x="123.5" y="364.7" font-family="Liberation Sans" font-size="3.4" font-weight="normal" fill="#2a2a2a" text-anchor="end" >CCG</text>
<circle cx="123.8" cy="366.7" r="1.45" fill="#000000"/>
<text x="128.8" y="372.20000000000005" font-family="Liberation Sans" font-size="3.4" font-weight="normal" fill="#2a2a2a" text-anchor="start" >DIT</text>
<circle cx="127.8" cy="368.6" r="1.45" fill="#000000"/>
<text x="157.0" y="349.1" font-family="Liberation Sans" font-size="3.4" font-weight="normal" fill="#2a2a2a" text-anchor="start" >BIO</text>
<circle cx="155.7" cy="351" r="1.45" fill="#000000"/>
<text x="151.79999999999998" y="357.2" font-family="Liberation Sans" font-size="3.4" font-weight="normal" fill="#2a2a2a" text-anchor="start" >VSS</text>
<circle cx="151.1" cy="359.4" r="1.45" fill="#000000"/>
<text x="277.0" y="317.29999999999995" font-family="Liberation Sans" font-size="3.4" font-weight="normal" fill="#2a2a2a" text-anchor="end" >MLG</text>
<circle cx="277.3" cy="313.9" r="1.45" fill="#e066a8"/>
<text x="202.6" y="330.7" font-family="Liberation Sans" font-size="3.4" font-weight="normal" fill="#2a2a2a" text-anchor="end" >PVC</text>
<circle cx="202.9" cy="327.5" r="1.45" fill="#ee6a50"/>
<text x="273.7" y="346.0" font-family="Liberation Sans" font-size="3.4" font-weight="normal" fill="#2a2a2a" text-anchor="start" >BEY</text>
<circle cx="273.3" cy="348.2" r="1.45" fill="#e066a8"/>
<text x="175.4" y="342.2" font-family="Liberation Sans" font-size="3.4" font-weight="normal" fill="#2a2a2a" text-anchor="start" >CHA</text>
<circle cx="175.1" cy="344.4" r="1.45" fill="#87cefa"/>
<text x="174.1" y="350.40000000000003" font-family="Liberation Sans" font-size="3.4" font-weight="normal" fill="#2a2a2a" text-anchor="start" >ALP_CH</text>
<circle cx="176.7" cy="352.6" r="1.45" fill="#87cefa"/>
<text x="174.7" y="356.6" font-family="Liberation Sans" font-size="3.4" font-weight="normal" fill="#2a2a2a" text-anchor="end" >PEA</text>
<circle cx="175.1" cy="358.5" r="1.45" fill="#87cefa"/>
<text x="174.7" y="363.5" font-family="Liberation Sans" font-size="3.4" font-weight="normal" fill="#2a2a2a" text-anchor="end" >TGR</text>
<circle cx="175.1" cy="365.4" r="1.45" fill="#87cefa"/>
<text x="174.7" y="372.5" font-family="Liberation Sans" font-size="3.4" font-weight="normal" fill="#2a2a2a" text-anchor="end" >GST</text>
<circle cx="175.1" cy="369.4" r="1.45" fill="#87cefa"/>
<text x="175.10000000000002" y="394.2" font-family="Liberation Sans" font-size="3.4" font-weight="normal" fill="#2a2a2a" text-anchor="end" >SAA</text>
<circle cx="175.3" cy="390.5" r="1.45" fill="#87cefa"/>
<text x="175.10000000000002" y="401.8" font-family="Liberation Sans" font-size="3.4" font-weight="normal" fill="#2a2a2a" text-anchor="end" >SGB</text>
<circle cx="175.3" cy="398.2" r="1.45" fill="#87cefa"/>
<text x="241.7" y="389.0" font-family="Liberation Sans" font-size="3.4" font-weight="normal" fill="#2a2a2a" text-anchor="start" >FSS</text>
<circle cx="241.2" cy="390.9" r="1.45" fill="#ee6a50"/>
<text x="230.0" y="412.0" font-family="Liberation Sans" font-size="3.4" font-weight="normal" fill="#2a2a2a" text-anchor="start" >RAS</text>
<circle cx="229.6" cy="413.9" r="1.45" fill="#e066a8"/>
<text x="228.10000000000002" y="427.8" font-family="Liberation Sans" font-size="3.4" font-weight="normal" fill="#2a2a2a" text-anchor="end" >PYR</text>
<circle cx="228.8" cy="424.1" r="1.45" fill="#ee6a50"/>
<text x="230.6" y="421.6" font-family="Liberation Sans" font-size="3.4" font-weight="normal" fill="#2a2a2a" text-anchor="start" >PTV</text>
<circle cx="230" cy="423.1" r="1.45" fill="#ee6a50"/>
<text x="179.20000000000002" y="442.7" font-family="Liberation Sans" font-size="3.4" font-weight="normal" fill="#2a2a2a" text-anchor="start" >LNR_FI</text>
<circle cx="177.9" cy="439.2" r="1.45" fill="#00ee00"/>
<text x="176.3" y="436.7" font-family="Liberation Sans" font-size="3.4" font-weight="normal" fill="#2a2a2a" text-anchor="end" >VAL</text>
<circle cx="177.4" cy="438.7" r="1.45" fill="#000000"/>
<text x="174.8" y="442.0" font-family="Liberation Sans" font-size="3.4" font-weight="normal" fill="#2a2a2a" text-anchor="end" >TOG</text>
<circle cx="175.3" cy="443.8" r="1.45" fill="#87cefa"/>
<text x="177.4" y="447.7" font-family="Liberation Sans" font-size="3.4" font-weight="normal" fill="#2a2a2a" text-anchor="start" >APP</text>
<circle cx="175.3" cy="446.9" r="1.45" fill="#87cefa"/>
<text x="173.0" y="447.7" font-family="Liberation Sans" font-size="3.4" font-weight="normal" fill="#2a2a2a" text-anchor="end" >NVE</text>
<circle cx="175.3" cy="448.9" r="1.45" fill="#87cefa"/>
<text x="176.0" y="454.1" font-family="Liberation Sans" font-size="3.4" font-weight="normal" fill="#2a2a2a" text-anchor="start" >VAG</text>
<circle cx="175.3" cy="450.5" r="1.45" fill="#87cefa"/>
<text x="176.29999999999998" y="461.9" font-family="Liberation Sans" font-size="3.4" font-weight="normal" fill="#2a2a2a" text-anchor="start" >LNR_DK</text>
<circle cx="179.6" cy="458.4" r="1.45" fill="#0000cd"/>
<text x="201.79999999999998" y="455.20000000000005" font-family="Liberation Sans" font-size="3.4" font-weight="normal" fill="#2a2a2a" text-anchor="start" >LNR_NL</text>
<circle cx="204.7" cy="457.1" r="1.45" fill="#ff0000"/>
<text x="119.3" y="443.7" font-family="Liberation Sans" font-size="3.4" font-weight="normal" fill="#2a2a2a" text-anchor="start" >MLT</text>
<circle cx="118.5" cy="445.5" r="1.45" fill="#000000"/>
<text x="161.4" y="446.4" font-family="Liberation Sans" font-size="3.4" font-weight="normal" fill="#2a2a2a" text-anchor="end" >ORO</text>
<circle cx="162" cy="447.9" r="1.45" fill="#000000"/>
<rect x="36.7" y="448.4" width="90.5" height="17.600000000000023" stroke="#ec4452" stroke-width="1.6" fill="#fff" rx="1"/>
<text x="44.1" y="460.9" font-family="Liberation Serif" font-size="10.4" font-weight="normal" fill="#333" text-anchor="start" textLength="72.6" lengthAdjust="spacingAndGlyphs" stroke="#333" stroke-width="0.45">R= -0.22, p= 0.24</text>
<line x1="351.7" y1="281.4" x2="351.7" y2="466.3" stroke="#f3f3f3" stroke-width="1.3" />
<line x1="447.4" y1="281.4" x2="447.4" y2="466.3" stroke="#f3f3f3" stroke-width="1.3" />
<line x1="542.3" y1="281.4" x2="542.3" y2="466.3" stroke="#f3f3f3" stroke-width="1.3" />
<line x1="317.0" y1="284.1" x2="567.5" y2="284.1" stroke="#f3f3f3" stroke-width="1.3" />
<line x1="317.0" y1="336.6" x2="567.5" y2="336.6" stroke="#f3f3f3" stroke-width="1.3" />
<line x1="317.0" y1="389.2" x2="567.5" y2="389.2" stroke="#f3f3f3" stroke-width="1.3" />
<line x1="317.0" y1="442.1" x2="567.5" y2="442.1" stroke="#f3f3f3" stroke-width="1.3" />
<line x1="399.2" y1="281.4" x2="399.2" y2="466.3" stroke="#f1f1f1" stroke-width="1.4" />
<line x1="494.9" y1="281.4" x2="494.9" y2="466.3" stroke="#f1f1f1" stroke-width="1.4" />
<line x1="317.0" y1="310.4" x2="567.5" y2="310.4" stroke="#f1f1f1" stroke-width="1.4" />
<line x1="317.0" y1="362.9" x2="567.5" y2="362.9" stroke="#f1f1f1" stroke-width="1.4" />
<line x1="317.0" y1="415.5" x2="567.5" y2="415.5" stroke="#f1f1f1" stroke-width="1.4" />
<path d="M317.0 466.3 L317.0 281.4 L567.5 281.4" stroke="#cfcfcf" stroke-width="1.2" fill="none"/>
<path d="M567.5 281.4 L567.5 466.3 L317.0 466.3" stroke="#b4b4b4" stroke-width="1.4" fill="none"/>
<line x1="315.5" y1="310.4" x2="317.0" y2="310.4" stroke="#555" stroke-width="0.6" />
<text x="315.0" y="311.59999999999997" font-family="Liberation Sans" font-size="3.6" font-weight="normal" fill="#555" text-anchor="end" >0.42</text>
<line x1="315.5" y1="362.9" x2="317.0" y2="362.9" stroke="#555" stroke-width="0.6" />
<text x="315.0" y="364.09999999999997" font-family="Liberation Sans" font-size="3.6" font-weight="normal" fill="#555" text-anchor="end" >0.40</text>
<line x1="315.5" y1="415.5" x2="317.0" y2="415.5" stroke="#555" stroke-width="0.6" />
<text x="315.0" y="416.7" font-family="Liberation Sans" font-size="3.6" font-weight="normal" fill="#555" text-anchor="end" >0.38</text>
<line x1="399.2" y1="466.3" x2="399.2" y2="467.8" stroke="#555" stroke-width="0.6" />
<text x="399.2" y="470.90000000000003" font-family="Liberation Sans" font-size="3.6" font-weight="normal" fill="#555" text-anchor="middle" >3000</text>
<line x1="494.9" y1="466.3" x2="494.9" y2="467.8" stroke="#555" stroke-width="0.6" />
<text x="494.9" y="470.90000000000003" font-family="Liberation Sans" font-size="3.6" font-weight="normal" fill="#555" text-anchor="middle" >4000</text>
<text x="306.2" y="374" font-family="Liberation Sans" font-size="4.1" font-weight="normal" fill="#222" text-anchor="middle" transform="rotate(-90 306.2 374)" textLength="51" lengthAdjust="spacingAndGlyphs">Expected heterozygosity (He)</text>
<text x="442" y="475.0" font-family="Liberation Sans" font-size="4.1" font-weight="normal" fill="#222" text-anchor="middle" >Km from domestication site (Ganj Dareh)</text>
<line x1="328.4" y1="354" x2="556.2" y2="397.5" stroke="#262626" stroke-width="1.4" />
<text x="328.9" y="287.3" font-family="Liberation Sans" font-size="3.4" font-weight="normal" fill="#2a2a2a" text-anchor="start" >CRP</text>
<circle cx="328.4" cy="289.5" r="1.45" fill="#000000"/>
<text x="380.5" y="321.6" font-family="Liberation Sans" font-size="3.4" font-weight="normal" fill="#2a2a2a" text-anchor="end" >NIC</text>
<circle cx="381.4" cy="318.1" r="1.45" fill="#000000"/>
<text x="384.90000000000003" y="331.6" font-family="Liberation Sans" font-size="3.4" font-weight="normal" fill="#2a2a2a" text-anchor="end" >ASP</text>
<circle cx="385.8" cy="328.1" r="1.45" fill="#000000"/>
<text x="403.59999999999997" y="317.0" font-family="Liberation Sans" font-size="3.4" font-weight="normal" fill="#2a2a2a" text-anchor="start" >CCG</text>
<circle cx="403.9" cy="319.2" r="1.45" fill="#000000"/>
<text x="431.3" y="326.6" font-family="Liberation Sans" font-size="3.4" font-weight="normal" fill="#2a2a2a" text-anchor="start" >VSS</text>
<circle cx="431" cy="328.8" r="1.45" fill="#000000"/>
<text x="436.4" y="332.5" font-family="Liberation Sans" font-size="3.4" font-weight="normal" fill="#2a2a2a" text-anchor="start" >BIO</text>
<circle cx="436" cy="334.9" r="1.45" fill="#000000"/>
<text x="389.3" y="373.90000000000003" font-family="Liberation Sans" font-size="3.4" font-weight="normal" fill="#2a2a2a" text-anchor="start" >GAR</text>
<circle cx="389" cy="376.1" r="1.45" fill="#000000"/>
<text x="398.0" y="389.2" font-family="Liberation Sans" font-size="3.4" font-weight="normal" fill="#2a2a2a" text-anchor="end" >MLT</text>
<circle cx="398.9" cy="386.3" r="1.45" fill="#000000"/>
<text x="408.6" y="406" font-family="Liberation Sans" font-size="3.4" font-weight="normal" fill="#2a2a2a" text-anchor="start" >DIT</text>
<circle cx="408.1" cy="408" r="1.45" fill="#000000"/>
<text x="442.4" y="426.5" font-family="Liberation Sans" font-size="3.4" font-weight="normal" fill="#2a2a2a" text-anchor="start" >ORO</text>
<circle cx="442" cy="428.2" r="1.45" fill="#000000"/>
<text x="453.9" y="359.3" font-family="Liberation Sans" font-size="3.4" font-weight="normal" fill="#2a2a2a" text-anchor="start" >ALP_CH</text>
<circle cx="456.9" cy="361.2" r="1.45" fill="#87cefa"/>
<text x="453.2" y="364.1" font-family="Liberation Sans" font-size="3.4" font-weight="normal" fill="#2a2a2a" text-anchor="end" >CHA</text>
<circle cx="455" cy="365.1" r="1.45" fill="#87cefa"/>
<text x="455.4" y="369.0" font-family="Liberation Sans" font-size="3.4" font-weight="normal" fill="#2a2a2a" text-anchor="start" >TGR</text>
<text x="456.1" y="379.0" font-family="Liberation Sans" font-size="3.4" font-weight="normal" fill="#2a2a2a" text-anchor="start" >PEA</text>
<circle cx="455" cy="380.9" r="1.45" fill="#87cefa"/>
<text x="453.2" y="385.59999999999997" font-family="Liberation Sans" font-size="3.4" font-weight="normal" fill="#2a2a2a" text-anchor="end" >GST</text>
<circle cx="455" cy="382.7" r="1.45" fill="#87cefa"/>
<text x="456.3" y="391.2" font-family="Liberation Sans" font-size="3.4" font-weight="normal" fill="#2a2a2a" text-anchor="end" >VAL</text>
<circle cx="457.3" cy="386.8" r="1.45" fill="#000000"/>
<text x="459.20000000000005" y="390.6" font-family="Liberation Sans" font-size="3.4" font-weight="normal" fill="#2a2a2a" text-anchor="start" >LNR_DK</text>
<circle cx="459.1" cy="386.5" r="1.45" fill="#0000cd"/>
<text x="510.0" y="396.0" font-family="Liberation Sans" font-size="3.4" font-weight="normal" fill="#2a2a2a" text-anchor="start" >PTV</text>
<circle cx="509.3" cy="398.2" r="1.45" fill="#ee6a50"/>
<text x="454.1" y="405.5" font-family="Liberation Sans" font-size="3.4" font-weight="normal" fill="#2a2a2a" text-anchor="end" >SAA</text>
<circle cx="455.1" cy="406.7" r="1.45" fill="#87cefa"/>
<text x="456.59999999999997" y="403.5" font-family="Liberation Sans" font-size="3.4" font-weight="normal" fill="#2a2a2a" text-anchor="start" >LNR_FI</text>
<circle cx="457.7" cy="405.5" r="1.45" fill="#00ee00"/>
<text x="456.0" y="410.9" font-family="Liberation Sans" font-size="3.4" font-weight="normal" fill="#2a2a2a" text-anchor="start" >SGB</text>
<text x="455.5" y="426.5" font-family="Liberation Sans" font-size="3.4" font-weight="normal" fill="#2a2a2a" text-anchor="start" >NVE</text>
<circle cx="455.1" cy="428.2" r="1.45" fill="#87cefa"/>
<text x="454.5" y="433.0" font-family="Liberation Sans" font-size="3.4" font-weight="normal" fill="#2a2a2a" text-anchor="end" >VAG</text>
<circle cx="455.1" cy="434.3" r="1.45" fill="#87cefa"/>
<text x="456.0" y="441.3" font-family="Liberation Sans" font-size="3.4" font-weight="normal" fill="#2a2a2a" text-anchor="start" >TOG</text>
<circle cx="455.1" cy="436.6" r="1.45" fill="#87cefa"/>
<text x="454.8" y="449.5" font-family="Liberation Sans" font-size="3.4" font-weight="normal" fill="#2a2a2a" text-anchor="end" >APP</text>
<circle cx="455.1" cy="445.7" r="1.45" fill="#87cefa"/>
<text x="481.09999999999997" y="456.6" font-family="Liberation Sans" font-size="3.4" font-weight="normal" fill="#2a2a2a" text-anchor="start" >LNR_NL</text>
<circle cx="484.7" cy="458.1" r="1.45" fill="#ff0000"/>
<text x="556.6999999999999" y="322.0" font-family="Liberation Sans" font-size="3.4" font-weight="normal" fill="#2a2a2a" text-anchor="end" >MLG</text>
<circle cx="556.4" cy="318.2" r="1.45" fill="#e066a8"/>
<text x="482.7" y="342.4" font-family="Liberation Sans" font-size="3.4" font-weight="normal" fill="#2a2a2a" text-anchor="start" >PVC</text>
<circle cx="482.5" cy="344" r="1.45" fill="#ee6a50"/>
<text x="552.8000000000001" y="349.6" font-family="Liberation Sans" font-size="3.4" font-weight="normal" fill="#2a2a2a" text-anchor="start" >BEY</text>
<circle cx="552.6" cy="351.3" r="1.45" fill="#e066a8"/>
<text x="521.0" y="361.2" font-family="Liberation Sans" font-size="3.4" font-weight="normal" fill="#2a2a2a" text-anchor="start" >FSS</text>
<circle cx="520.7" cy="362.7" r="1.45" fill="#ee6a50"/>
<text x="508.5" y="369.0" font-family="Liberation Sans" font-size="3.4" font-weight="normal" fill="#2a2a2a" text-anchor="end" >RAS</text>
<circle cx="508.9" cy="370.5" r="1.45" fill="#e066a8"/>
<text x="508.5" y="374.40000000000003" font-family="Liberation Sans" font-size="3.4" font-weight="normal" fill="#2a2a2a" text-anchor="start" >PYR</text>
<circle cx="508.2" cy="376.1" r="1.45" fill="#ee6a50"/>
<rect x="318.0" y="446.7" width="89.60000000000002" height="17.69999999999999" stroke="#ec4452" stroke-width="1.6" fill="#fff" rx="1"/>
<text x="325.3" y="459.4" font-family="Liberation Serif" font-size="10.4" font-weight="normal" fill="#333" text-anchor="start" textLength="72.2" lengthAdjust="spacingAndGlyphs" stroke="#333" stroke-width="0.45">R= -0.22, p= 0.22</text>
<line x1="97.7" y1="570.4" x2="97.7" y2="756.5" stroke="#f3f3f3" stroke-width="1.3" />
<line x1="179.7" y1="570.4" x2="179.7" y2="756.5" stroke="#f3f3f3" stroke-width="1.3" />
<line x1="260.0" y1="570.4" x2="260.0" y2="756.5" stroke="#f3f3f3" stroke-width="1.3" />
<line x1="36.0" y1="589.6" x2="286.3" y2="589.6" stroke="#f3f3f3" stroke-width="1.3" />
<line x1="36.0" y1="630.9" x2="286.3" y2="630.9" stroke="#f3f3f3" stroke-width="1.3" />
<line x1="36.0" y1="671.7" x2="286.3" y2="671.7" stroke="#f3f3f3" stroke-width="1.3" />
<line x1="36.0" y1="712.5" x2="286.3" y2="712.5" stroke="#f3f3f3" stroke-width="1.3" />
<line x1="57.6" y1="570.4" x2="57.6" y2="756.5" stroke="#f1f1f1" stroke-width="1.4" />
<line x1="138.7" y1="570.4" x2="138.7" y2="756.5" stroke="#f1f1f1" stroke-width="1.4" />
<line x1="219.4" y1="570.4" x2="219.4" y2="756.5" stroke="#f1f1f1" stroke-width="1.4" />
<line x1="36.0" y1="610.3" x2="286.3" y2="610.3" stroke="#f1f1f1" stroke-width="1.4" />
<line x1="36.0" y1="651.4" x2="286.3" y2="651.4" stroke="#f1f1f1" stroke-width="1.4" />
<line x1="36.0" y1="692.2" x2="286.3" y2="692.2" stroke="#f1f1f1" stroke-width="1.4" />
<line x1="36.0" y1="733.0" x2="286.3" y2="733.0" stroke="#f1f1f1" stroke-width="1.4" />
<path d="M36.0 756.5 L36.0 570.4 L286.3 570.4" stroke="#cfcfcf" stroke-width="1.2" fill="none"/>
<path d="M286.3 570.4 L286.3 756.5 L36.0 756.5" stroke="#b4b4b4" stroke-width="1.4" fill="none"/>
<line x1="34.5" y1="610.3" x2="36.0" y2="610.3" stroke="#555" stroke-width="0.6" />
<text x="34.0" y="611.5" font-family="Liberation Sans" font-size="3.6" font-weight="normal" fill="#555" text-anchor="end" >0.400</text>
<line x1="34.5" y1="651.4" x2="36.0" y2="651.4" stroke="#555" stroke-width="0.6" />
<text x="34.0" y="652.6" font-family="Liberation Sans" font-size="3.6" font-weight="normal" fill="#555" text-anchor="end" >0.375</text>
<line x1="34.5" y1="692.2" x2="36.0" y2="692.2" stroke="#555" stroke-width="0.6" />
<text x="34.0" y="693.4000000000001" font-family="Liberation Sans" font-size="3.6" font-weight="normal" fill="#555" text-anchor="end" >0.350</text>
<line x1="34.5" y1="733.0" x2="36.0" y2="733.0" stroke="#555" stroke-width="0.6" />
<text x="34.0" y="734.2" font-family="Liberation Sans" font-size="3.6" font-weight="normal" fill="#555" text-anchor="end" >0.325</text>
<line x1="57.6" y1="756.5" x2="57.6" y2="758.0" stroke="#555" stroke-width="0.6" />
<text x="57.6" y="761.1" font-family="Liberation Sans" font-size="3.6" font-weight="normal" fill="#555" text-anchor="middle" >2000</text>
<line x1="138.7" y1="756.5" x2="138.7" y2="758.0" stroke="#555" stroke-width="0.6" />
<text x="138.7" y="761.1" font-family="Liberation Sans" font-size="3.6" font-weight="normal" fill="#555" text-anchor="middle" >4000</text>
<line x1="219.4" y1="756.5" x2="219.4" y2="758.0" stroke="#555" stroke-width="0.6" />
<text x="219.4" y="761.1" font-family="Liberation Sans" font-size="3.6" font-weight="normal" fill="#555" text-anchor="middle" >6000</text>
<text x="23.8" y="666.2" font-family="Liberation Sans" font-size="4.3" font-weight="normal" fill="#222" text-anchor="middle" transform="rotate(-90 23.8 666.2)" textLength="56.5" lengthAdjust="spacingAndGlyphs">Observed heterozygosity (Ho)</text>
<text x="161" y="765.0" font-family="Liberation Sans" font-size="3.9" font-weight="normal" fill="#222" text-anchor="middle" >Km from domestication site (Ganj Dareh)</text>
<line x1="47.4" y1="584.6" x2="275.2" y2="668.7" stroke="#262626" stroke-width="1.4" />
<text x="56.400000000000006" y="582.5" font-family="Liberation Sans" font-size="3.5" font-weight="normal" fill="#2a2a2a" text-anchor="end" >BRK</text>
<circle cx="57.2" cy="578.7" r="1.35" fill="#7f7f7f"/>
<text x="117.1" y="583" font-family="Liberation Sans" font-size="3.5" font-weight="normal" fill="#2a2a2a" text-anchor="end" >TUN</text>
<circle cx="117.1" cy="579" r="1.35" fill="#9b30ff"/>
<text x="92.6" y="590.2" font-family="Liberation Sans" font-size="3.5" font-weight="normal" fill="#2a2a2a" text-anchor="end" >DESE</text>
<circle cx="92" cy="586" r="1.35" fill="#8b6a9b"/>
<text x="48.2" y="597.4" font-family="Liberation Sans" font-size="3.5" font-weight="normal" fill="#2a2a2a" text-anchor="start" >SID</text>
<circle cx="47.2" cy="599.1" r="1.35" fill="#7f7f7f"/>
<text x="82.6" y="601.5" font-family="Liberation Sans" font-size="3.5" font-weight="normal" fill="#2a2a2a" text-anchor="end" >GUM</text>
<circle cx="82" cy="603.2" r="1.35" fill="#e066a8"/>
<text x="100.7" y="602.6" font-family="Liberation Sans" font-size="3.5" font-weight="normal" fill="#2a2a2a" text-anchor="end" >TAGG</text>
<circle cx="99.8" cy="598.6" r="1.35" fill="#8b6a9b"/>
<text x="90.2" y="607.8" font-family="Liberation Sans" font-size="3.5" font-weight="normal" fill="#2a2a2a" text-anchor="start" >NI</text>
<circle cx="88.5" cy="604.4" r="1.35" fill="#8b6a9b"/>
<text x="76.80000000000001" y="609.0" font-family="Liberation Sans" font-size="3.5" font-weight="normal" fill="#2a2a2a" text-anchor="start" >ABR</text>
<circle cx="76.4" cy="611.1" r="1.35" fill="#e066a8"/>
<text x="113" y="611.0" font-family="Liberation Sans" font-size="3.5" font-weight="normal" fill="#2a2a2a" text-anchor="end" >WYS</text>
<circle cx="113" cy="606.7" r="1.35" fill="#e066a8"/>
<text x="55.8" y="626.0" font-family="Liberation Sans" font-size="3.5" font-weight="normal" fill="#2a2a2a" text-anchor="start" >OSS</text>
<circle cx="55.5" cy="628.3" r="1.35" fill="#7f7f7f"/>
<text x="103.6" y="636.1" font-family="Liberation Sans" font-size="3.5" font-weight="normal" fill="#2a2a2a" text-anchor="end" >KEF</text>
<circle cx="104" cy="632.4" r="1.35" fill="#e066a8"/>
<text x="153.5" y="585.6" font-family="Liberation Sans" font-size="3.5" font-weight="normal" fill="#2a2a2a" text-anchor="end" >ALG</text>
<circle cx="153.9" cy="582.2" r="1.35" fill="#0000cd"/>
<text x="126.10000000000001" y="594.4" font-family="Liberation Sans" font-size="3.5" font-weight="normal" fill="#2a2a2a" text-anchor="end" >GAL</text>
<circle cx="126.7" cy="596.3" r="1.35" fill="#87cefa"/>
<text x="126.10000000000001" y="600.3000000000001" font-family="Liberation Sans" font-size="3.5" font-weight="normal" fill="#2a2a2a" text-anchor="end" >KAR</text>
<circle cx="128.4" cy="600.6" r="1.35" fill="#8b5a2b"/>
<text x="133.7" y="606.3" font-family="Liberation Sans" font-size="3.5" font-weight="normal" fill="#2a2a2a" text-anchor="start" >SEB</text>
<circle cx="133.5" cy="602.4" r="1.35" fill="#8b5a2b"/>
<text x="149.1" y="595.6" font-family="Liberation Sans" font-size="3.5" font-weight="normal" fill="#2a2a2a" text-anchor="start" >DAJ</text>
<circle cx="148.6" cy="597.5" r="1.35" fill="#000000"/>
<text x="133.5" y="614.5999999999999" font-family="Liberation Sans" font-size="3.5" font-weight="normal" fill="#2a2a2a" text-anchor="end" >SEA</text>
<circle cx="133.5" cy="610.8" r="1.35" fill="#87cefa"/>
<text x="182.2" y="600.7" font-family="Liberation Sans" font-size="3.5" font-weight="normal" fill="#2a2a2a" text-anchor="end" >MOR</text>
<circle cx="182.2" cy="602.6" r="1.35" fill="#4169e1"/>
<text x="186.2" y="604.8" font-family="Liberation Sans" font-size="3.5" font-weight="normal" fill="#2a2a2a" text-anchor="start" >MAA</text>
<circle cx="186.2" cy="606.8" r="1.35" fill="#000000"/>
<text x="189.39999999999998" y="613.4" font-family="Liberation Sans" font-size="3.5" font-weight="normal" fill="#2a2a2a" text-anchor="start" >SAH</text>
<circle cx="189.2" cy="609.6" r="1.35" fill="#00ee00"/>
<text x="166.4" y="605.8000000000001" font-family="Liberation Sans" font-size="3.5" font-weight="normal" fill="#2a2a2a" text-anchor="start" >SHL</text>
<circle cx="165.8" cy="607.6" r="1.35" fill="#00e5ee"/>
<text x="183.9" y="616.3000000000001" font-family="Liberation Sans" font-size="3.5" font-weight="normal" fill="#2a2a2a" text-anchor="end" >TAR</text>
<circle cx="184.5" cy="612.6" r="1.35" fill="#f4a040"/>
<text x="151.20000000000002" y="623.5" font-family="Liberation Sans" font-size="3.5" font-weight="normal" fill="#2a2a2a" text-anchor="end" >FRW</text>
<circle cx="153.9" cy="621.1" r="1.35" fill="#000000"/>
<text x="149.8" y="629.8" font-family="Liberation Sans" font-size="3.5" font-weight="normal" fill="#2a2a2a" text-anchor="start" >CAM</text>
<circle cx="150.3" cy="626" r="1.35" fill="#000000"/>
<text x="140.70000000000002" y="629.8" font-family="Liberation Sans" font-size="3.5" font-weight="normal" fill="#2a2a2a" text-anchor="end" >MUB</text>
<circle cx="140.9" cy="626.3" r="1.35" fill="#8b5a2b"/>
<text x="166.6" y="635.0" font-family="Liberation Sans" font-size="3.5" font-weight="normal" fill="#2a2a2a" text-anchor="end" >RSK</text>
<circle cx="166.2" cy="631.7" r="1.35" fill="#00e5ee"/>
<text x="158.9" y="641.3" font-family="Liberation Sans" font-size="3.5" font-weight="normal" fill="#2a2a2a" text-anchor="end" >BUR</text>
<circle cx="158.9" cy="637.3" r="1.35" fill="#ee6a50"/>
<text x="235.3" y="591.5" font-family="Liberation Sans" font-size="3.5" font-weight="normal" fill="#2a2a2a" text-anchor="start" >MTB</text>
<circle cx="235.3" cy="593.3" r="1.35" fill="#cdcd00"/>
<text x="221.9" y="600.0" font-family="Liberation Sans" font-size="3.5" font-weight="normal" fill="#2a2a2a" text-anchor="start" >GUE</text>
<circle cx="222.3" cy="601.8" r="1.35" fill="#f4a040"/>
<text x="203.6" y="604.3000000000001" font-family="Liberation Sans" font-size="3.5" font-weight="normal" fill="#2a2a2a" text-anchor="start" >PEU</text>
<circle cx="203.6" cy="606.1" r="1.35" fill="#f4a040"/>
<text x="214" y="612.8000000000001" font-family="Liberation Sans" font-size="3.5" font-weight="normal" fill="#2a2a2a" text-anchor="start" >SON</text>
<circle cx="214" cy="614.6" r="1.35" fill="#f4a040"/>
<text x="276.1" y="624.2" font-family="Liberation Sans" font-size="3.5" font-weight="normal" fill="#2a2a2a" text-anchor="end" >SAFR</text>
<circle cx="275.1" cy="620.5" r="1.35" fill="#ff00ff"/>
<text x="193.4" y="648.5" font-family="Liberation Sans" font-size="3.5" font-weight="normal" fill="#2a2a2a" text-anchor="start" >WAO</text>
<circle cx="193.8" cy="650" r="1.35" fill="#00e5ee"/>
<text x="172.1" y="655.8" font-family="Liberation Sans" font-size="3.5" font-weight="normal" fill="#2a2a2a" text-anchor="start" >WAO_CM</text>
<circle cx="177" cy="658.3" r="1.35" fill="#000000"/>
<text x="222.7" y="685.1999999999999" font-family="Liberation Sans" font-size="3.5" font-weight="normal" fill="#2a2a2a" text-anchor="end" >MSH</text>
<circle cx="223.5" cy="681.9" r="1.35" fill="#e8c800"/>
<text x="225.0" y="691.3" font-family="Liberation Sans" font-size="3.5" font-weight="normal" fill="#2a2a2a" text-anchor="start" >PAL</text>
<circle cx="224.5" cy="687.3" r="1.35" fill="#ff0000"/>
<text x="201.7" y="694.8" font-family="Liberation Sans" font-size="3.5" font-weight="normal" fill="#2a2a2a" text-anchor="end" >DZO</text>
<circle cx="201.7" cy="691" r="1.35" fill="#6a5acd"/>
<text x="252.5" y="717.5" font-family="Liberation Sans" font-size="3.5" font-weight="normal" fill="#2a2a2a" text-anchor="start" >LNO</text>
<circle cx="252.5" cy="719.9" r="1.35" fill="#006400"/>
<text x="205.2" y="742.5" font-family="Liberation Sans" font-size="3.5" font-weight="normal" fill="#2a2a2a" text-anchor="end" >SOF</text>
<circle cx="205.2" cy="738.9" r="1.35" fill="#3cb371"/>
<text x="220.6" y="746.5" font-family="Liberation Sans" font-size="3.5" font-weight="normal" fill="#2a2a2a" text-anchor="start" >MEN</text>
<circle cx="220.7" cy="748.6" r="1.35" fill="#3cb371"/>
<rect x="38.5" y="734.1" width="108.80000000000001" height="17.100000000000023" stroke="#ec4452" stroke-width="1.6" fill="#fff" rx="1"/>
<text x="45.6" y="746.3" font-family="Liberation Serif" font-size="9.3" font-weight="normal" fill="#333" text-anchor="start" textLength="83.5" lengthAdjust="spacingAndGlyphs" stroke="#333" stroke-width="0.32">R=-0.51, p= 0.00079</text>
<line x1="380.2" y1="571.3" x2="380.2" y2="755.0" stroke="#f3f3f3" stroke-width="1.3" />
<line x1="460.8" y1="571.3" x2="460.8" y2="755.0" stroke="#f3f3f3" stroke-width="1.3" />
<line x1="541.4" y1="571.3" x2="541.4" y2="755.0" stroke="#f3f3f3" stroke-width="1.3" />
<line x1="318.5" y1="589.1" x2="567.3" y2="589.1" stroke="#f3f3f3" stroke-width="1.3" />
<line x1="318.5" y1="661.6" x2="567.3" y2="661.6" stroke="#f3f3f3" stroke-width="1.3" />
<line x1="318.5" y1="734.0" x2="567.3" y2="734.0" stroke="#f3f3f3" stroke-width="1.3" />
<line x1="339.9" y1="571.3" x2="339.9" y2="755.0" stroke="#f1f1f1" stroke-width="1.4" />
<line x1="420.9" y1="571.3" x2="420.9" y2="755.0" stroke="#f1f1f1" stroke-width="1.4" />
<line x1="500.7" y1="571.3" x2="500.7" y2="755.0" stroke="#f1f1f1" stroke-width="1.4" />
<line x1="318.5" y1="625.3" x2="567.3" y2="625.3" stroke="#f1f1f1" stroke-width="1.4" />
<line x1="318.5" y1="697.8" x2="567.3" y2="697.8" stroke="#f1f1f1" stroke-width="1.4" />
<path d="M318.5 755.0 L318.5 571.3 L567.3 571.3" stroke="#cfcfcf" stroke-width="1.2" fill="none"/>
<path d="M567.3 571.3 L567.3 755.0 L318.5 755.0" stroke="#b4b4b4" stroke-width="1.4" fill="none"/>
<line x1="317.0" y1="625.3" x2="318.5" y2="625.3" stroke="#555" stroke-width="0.6" />
<text x="316.5" y="626.5" font-family="Liberation Sans" font-size="3.6" font-weight="normal" fill="#555" text-anchor="end" >0.40</text>
<line x1="317.0" y1="697.8" x2="318.5" y2="697.8" stroke="#555" stroke-width="0.6" />
<text x="316.5" y="699.0" font-family="Liberation Sans" font-size="3.6" font-weight="normal" fill="#555" text-anchor="end" >0.30</text>
<line x1="339.9" y1="755.0" x2="339.9" y2="756.5" stroke="#555" stroke-width="0.6" />
<text x="339.9" y="759.6" font-family="Liberation Sans" font-size="3.6" font-weight="normal" fill="#555" text-anchor="middle" >2000</text>
<line x1="420.9" y1="755.0" x2="420.9" y2="756.5" stroke="#555" stroke-width="0.6" />
<text x="420.9" y="759.6" font-family="Liberation Sans" font-size="3.6" font-weight="normal" fill="#555" text-anchor="middle" >4000</text>
<line x1="500.7" y1="755.0" x2="500.7" y2="756.5" stroke="#555" stroke-width="0.6" />
<text x="500.7" y="759.6" font-family="Liberation Sans" font-size="3.6" font-weight="normal" fill="#555" text-anchor="middle" >6000</text>
<text x="308.2" y="664" font-family="Liberation Sans" font-size="4.0" font-weight="normal" fill="#222" text-anchor="middle" transform="rotate(-90 308.2 664)" textLength="52" lengthAdjust="spacingAndGlyphs">Expected heterozygosity (He)</text>
<text x="442" y="764.5" font-family="Liberation Sans" font-size="3.9" font-weight="normal" fill="#222" text-anchor="middle" >Km from domestication site (Ganj Dareh)</text>
<line x1="329.8" y1="600.7" x2="556" y2="673.9" stroke="#262626" stroke-width="1.4" />
<text x="339.3" y="594.5" font-family="Liberation Sans" font-size="3.5" font-weight="normal" fill="#2a2a2a" text-anchor="start" >BRK</text>
<circle cx="339.3" cy="596.8" r="1.35" fill="#7f7f7f"/>
<text x="329.09999999999997" y="604.0" font-family="Liberation Sans" font-size="3.5" font-weight="normal" fill="#2a2a2a" text-anchor="end" >SID</text>
<circle cx="329.9" cy="600.3" r="1.35" fill="#7f7f7f"/>
<text x="338.70000000000005" y="607.3000000000001" font-family="Liberation Sans" font-size="3.5" font-weight="normal" fill="#2a2a2a" text-anchor="start" >OSS</text>
<circle cx="338.1" cy="609.6" r="1.35" fill="#7f7f7f"/>
<text x="372.8" y="606" font-family="Liberation Sans" font-size="3.5" font-weight="normal" fill="#2a2a2a" text-anchor="start" >DESE</text>
<circle cx="374" cy="608" r="1.35" fill="#8b6a9b"/>
<text x="369.0" y="614.5" font-family="Liberation Sans" font-size="3.5" font-weight="normal" fill="#2a2a2a" text-anchor="end" >NI</text>
<circle cx="370.6" cy="611.1" r="1.35" fill="#8b6a9b"/>
<text x="383.09999999999997" y="623.4" font-family="Liberation Sans" font-size="3.5" font-weight="normal" fill="#2a2a2a" text-anchor="end" >TAGG</text>
<circle cx="381.9" cy="619.9" r="1.35" fill="#8b6a9b"/>
<text x="365.0" y="629.2" font-family="Liberation Sans" font-size="3.5" font-weight="normal" fill="#2a2a2a" text-anchor="end" >GUM</text>
<circle cx="364.4" cy="625.7" r="1.35" fill="#e066a8"/>
<text x="358.5" y="634.8" font-family="Liberation Sans" font-size="3.5" font-weight="normal" fill="#2a2a2a" text-anchor="end" >ABR</text>
<circle cx="358.8" cy="631.3" r="1.35" fill="#e066a8"/>
<text x="394.7" y="631.0" font-family="Liberation Sans" font-size="3.5" font-weight="normal" fill="#2a2a2a" text-anchor="end" >WYG</text>
<circle cx="394.7" cy="627.5" r="1.35" fill="#e066a8"/>
<text x="386.0" y="640.3" font-family="Liberation Sans" font-size="3.5" font-weight="normal" fill="#2a2a2a" text-anchor="end" >KEF</text>
<circle cx="386.3" cy="636.8" r="1.35" fill="#e066a8"/>
<text x="399.4" y="600.5999999999999" font-family="Liberation Sans" font-size="3.5" font-weight="normal" fill="#2a2a2a" text-anchor="end" >TUN</text>
<circle cx="399.2" cy="596.8" r="1.35" fill="#9b30ff"/>
<text x="435.90000000000003" y="577.5" font-family="Liberation Sans" font-size="3.5" font-weight="normal" fill="#2a2a2a" text-anchor="start" >ALG</text>
<circle cx="435.6" cy="579.6" r="1.35" fill="#0000cd"/>
<text x="464.5" y="601.0" font-family="Liberation Sans" font-size="3.5" font-weight="normal" fill="#2a2a2a" text-anchor="end" >MOR</text>
<circle cx="463.9" cy="597.1" r="1.35" fill="#4169e1"/>
<text x="410.2" y="619.2" font-family="Liberation Sans" font-size="3.5" font-weight="normal" fill="#2a2a2a" text-anchor="end" >KAR</text>
<circle cx="410.5" cy="621.1" r="1.35" fill="#8b5a2b"/>
<text x="407.8" y="626" font-family="Liberation Sans" font-size="3.5" font-weight="normal" fill="#2a2a2a" text-anchor="end" >GAL</text>
<circle cx="408.8" cy="622" r="1.35" fill="#87cefa"/>
<text x="416.0" y="623.8" font-family="Liberation Sans" font-size="3.5" font-weight="normal" fill="#2a2a2a" text-anchor="start" >SEA</text>
<circle cx="415.7" cy="625.5" r="1.35" fill="#87cefa"/>
<text x="415.09999999999997" y="633.7" font-family="Liberation Sans" font-size="3.5" font-weight="normal" fill="#2a2a2a" text-anchor="end" >SEB</text>
<circle cx="415.7" cy="630" r="1.35" fill="#8b5a2b"/>
<text x="421.3" y="639.3000000000001" font-family="Liberation Sans" font-size="3.5" font-weight="normal" fill="#2a2a2a" text-anchor="end" >MUB</text>
<circle cx="422.8" cy="635.6" r="1.35" fill="#8b5a2b"/>
<text x="433.0" y="642.3000000000001" font-family="Liberation Sans" font-size="3.5" font-weight="normal" fill="#2a2a2a" text-anchor="end" >CAM</text>
<circle cx="431.2" cy="637.2" r="1.35" fill="#000000"/>
<text x="436.5" y="635.4000000000001" font-family="Liberation Sans" font-size="3.5" font-weight="normal" fill="#2a2a2a" text-anchor="start" >FRW</text>
<circle cx="435.6" cy="638.2" r="1.35" fill="#000000"/>
<text x="448.1" y="621" font-family="Liberation Sans" font-size="3.5" font-weight="normal" fill="#2a2a2a" text-anchor="start" >SHL</text>
<circle cx="447.8" cy="623" r="1.35" fill="#00e5ee"/>
<text x="448.1" y="627.0" font-family="Liberation Sans" font-size="3.5" font-weight="normal" fill="#2a2a2a" text-anchor="start" >RSK</text>
<circle cx="447.8" cy="629.2" r="1.35" fill="#00e5ee"/>
<text x="468" y="626.2" font-family="Liberation Sans" font-size="3.5" font-weight="normal" fill="#2a2a2a" text-anchor="end" >MAA</text>
<circle cx="468" cy="628.1" r="1.35" fill="#000000"/>
<text x="470.9" y="633.3000000000001" font-family="Liberation Sans" font-size="3.5" font-weight="normal" fill="#2a2a2a" text-anchor="start" >SAH</text>
<circle cx="470.9" cy="629.2" r="1.35" fill="#00ee00"/>
<text x="465.7" y="634.3" font-family="Liberation Sans" font-size="3.5" font-weight="normal" fill="#2a2a2a" text-anchor="end" >TAR</text>
<circle cx="465.7" cy="630.4" r="1.35" fill="#f4a040"/>
<text x="555.3" y="598.5" font-family="Liberation Sans" font-size="3.5" font-weight="normal" fill="#2a2a2a" text-anchor="start" >SAFR</text>
<circle cx="556.3" cy="600.5" r="1.35" fill="#ff00ff"/>
<text x="517" y="623.0" font-family="Liberation Sans" font-size="3.5" font-weight="normal" fill="#2a2a2a" text-anchor="start" >MTB</text>
<circle cx="517" cy="624.6" r="1.35" fill="#cdcd00"/>
<text x="485.4" y="640.5" font-family="Liberation Sans" font-size="3.5" font-weight="normal" fill="#2a2a2a" text-anchor="end" >PEU</text>
<circle cx="485.4" cy="636.9" r="1.35" fill="#f4a040"/>
<text x="495.5" y="634.8000000000001" font-family="Liberation Sans" font-size="3.5" font-weight="normal" fill="#2a2a2a" text-anchor="start" >SON</text>
<circle cx="495.5" cy="636.7" r="1.35" fill="#f4a040"/>
<text x="503.7" y="644.2" font-family="Liberation Sans" font-size="3.5" font-weight="normal" fill="#2a2a2a" text-anchor="start" >GUE</text>
<circle cx="503.7" cy="646" r="1.35" fill="#f4a040"/>
<text x="441.1" y="650.0" font-family="Liberation Sans" font-size="3.5" font-weight="normal" fill="#2a2a2a" text-anchor="start" >BUR</text>
<circle cx="441.1" cy="651.8" r="1.35" fill="#ee6a50"/>
<text x="475.3" y="659.2" font-family="Liberation Sans" font-size="3.5" font-weight="normal" fill="#2a2a2a" text-anchor="end" >WAO</text>
<circle cx="475.3" cy="655.5" r="1.35" fill="#00e5ee"/>
<text x="463.2" y="666.8" font-family="Liberation Sans" font-size="3.5" font-weight="normal" fill="#2a2a2a" text-anchor="end" >WAO_CM</text>
<circle cx="458.8" cy="663.5" r="1.35" fill="#000000"/>
<text x="483.4" y="666.8" font-family="Liberation Sans" font-size="3.5" font-weight="normal" fill="#2a2a2a" text-anchor="end" >DZO</text>
<circle cx="483.4" cy="663.5" r="1.35" fill="#6a5acd"/>
<text x="505.2" y="680.1999999999999" font-family="Liberation Sans" font-size="3.5" font-weight="normal" fill="#2a2a2a" text-anchor="end" >MSH</text>
<circle cx="504.8" cy="676.4" r="1.35" fill="#e8c800"/>
<text x="505.2" y="704.5" font-family="Liberation Sans" font-size="3.5" font-weight="normal" fill="#2a2a2a" text-anchor="end" >PAL</text>
<circle cx="505.9" cy="700.5" r="1.35" fill="#ff0000"/>
<text x="533.7" y="710.0" font-family="Liberation Sans" font-size="3.5" font-weight="normal" fill="#2a2a2a" text-anchor="end" >LNO</text>
<circle cx="533.7" cy="706.1" r="1.35" fill="#006400"/>
<text x="487.09999999999997" y="713.4" font-family="Liberation Sans" font-size="3.5" font-weight="normal" fill="#2a2a2a" text-anchor="start" >SOF</text>
<circle cx="486.7" cy="715.3" r="1.35" fill="#3cb371"/>
<text x="502.2" y="750.4" font-family="Liberation Sans" font-size="3.5" font-weight="normal" fill="#2a2a2a" text-anchor="end" >MEN</text>
<circle cx="502.2" cy="746.9" r="1.35" fill="#3cb371"/>
<rect x="321.8" y="733.5" width="108.69999999999999" height="17.100000000000023" stroke="#ec4452" stroke-width="1.6" fill="#fff" rx="1"/>
<text x="328.0" y="745.9" font-family="Liberation Serif" font-size="9.3" font-weight="normal" fill="#333" text-anchor="start" textLength="83.0" lengthAdjust="spacingAndGlyphs" stroke="#333" stroke-width="0.32">R=-0.53, p= 0.00043</text>
<line x1="103.6" y1="788.0" x2="103.6" y2="970.6" stroke="#f3f3f3" stroke-width="1.3" />
<line x1="184.1" y1="788.0" x2="184.1" y2="970.6" stroke="#f3f3f3" stroke-width="1.3" />
<line x1="265.0" y1="788.0" x2="265.0" y2="970.6" stroke="#f3f3f3" stroke-width="1.3" />
<line x1="41.8" y1="809.3" x2="290.6" y2="809.3" stroke="#f3f3f3" stroke-width="1.3" />
<line x1="41.8" y1="857.6" x2="290.6" y2="857.6" stroke="#f3f3f3" stroke-width="1.3" />
<line x1="41.8" y1="905.9" x2="290.6" y2="905.9" stroke="#f3f3f3" stroke-width="1.3" />
<line x1="41.8" y1="954.2" x2="290.6" y2="954.2" stroke="#f3f3f3" stroke-width="1.3" />
<line x1="62.9" y1="788.0" x2="62.9" y2="970.6" stroke="#f1f1f1" stroke-width="1.4" />
<line x1="143.9" y1="788.0" x2="143.9" y2="970.6" stroke="#f1f1f1" stroke-width="1.4" />
<line x1="224.2" y1="788.0" x2="224.2" y2="970.6" stroke="#f1f1f1" stroke-width="1.4" />
<line x1="41.8" y1="833.5" x2="290.6" y2="833.5" stroke="#f1f1f1" stroke-width="1.4" />
<line x1="41.8" y1="881.6" x2="290.6" y2="881.6" stroke="#f1f1f1" stroke-width="1.4" />
<line x1="41.8" y1="930.1" x2="290.6" y2="930.1" stroke="#f1f1f1" stroke-width="1.4" />
<path d="M41.8 970.6 L41.8 788.0 L290.6 788.0" stroke="#cfcfcf" stroke-width="1.2" fill="none"/>
<path d="M290.6 788.0 L290.6 970.6 L41.8 970.6" stroke="#b4b4b4" stroke-width="1.4" fill="none"/>
<line x1="40.3" y1="833.5" x2="41.8" y2="833.5" stroke="#555" stroke-width="0.6" />
<text x="39.8" y="834.7" font-family="Liberation Sans" font-size="3.6" font-weight="normal" fill="#555" text-anchor="end" >0.400</text>
<line x1="40.3" y1="881.6" x2="41.8" y2="881.6" stroke="#555" stroke-width="0.6" />
<text x="39.8" y="882.8000000000001" font-family="Liberation Sans" font-size="3.6" font-weight="normal" fill="#555" text-anchor="end" >0.375</text>
<line x1="40.3" y1="930.1" x2="41.8" y2="930.1" stroke="#555" stroke-width="0.6" />
<text x="39.8" y="931.3000000000001" font-family="Liberation Sans" font-size="3.6" font-weight="normal" fill="#555" text-anchor="end" >0.350</text>
<line x1="62.9" y1="970.6" x2="62.9" y2="972.1" stroke="#555" stroke-width="0.6" />
<text x="62.9" y="975.2" font-family="Liberation Sans" font-size="3.6" font-weight="normal" fill="#555" text-anchor="middle" >2000</text>
<line x1="143.9" y1="970.6" x2="143.9" y2="972.1" stroke="#555" stroke-width="0.6" />
<text x="143.9" y="975.2" font-family="Liberation Sans" font-size="3.6" font-weight="normal" fill="#555" text-anchor="middle" >4000</text>
<line x1="224.2" y1="970.6" x2="224.2" y2="972.1" stroke="#555" stroke-width="0.6" />
<text x="224.2" y="975.2" font-family="Liberation Sans" font-size="3.6" font-weight="normal" fill="#555" text-anchor="middle" >6000</text>
<text x="30.3" y="879.7" font-family="Liberation Sans" font-size="4.0" font-weight="normal" fill="#222" text-anchor="middle" transform="rotate(-90 30.3 879.7)" textLength="51" lengthAdjust="spacingAndGlyphs">Observed heterozygosity (Ho)</text>
<text x="166" y="979.5" font-family="Liberation Sans" font-size="3.9" font-weight="normal" fill="#222" text-anchor="middle" >Km from domestication site (Ganj Dareh)</text>
<line x1="53.3" y1="811.3" x2="279.6" y2="877.1" stroke="#262626" stroke-width="1.4" />
<text x="61.9" y="799.6999999999999" font-family="Liberation Sans" font-size="3.5" font-weight="normal" fill="#2a2a2a" text-anchor="end" >BRK</text>
<circle cx="62.5" cy="795.8" r="1.35" fill="#7f7f7f"/>
<text x="95.8" y="802.8" font-family="Liberation Sans" font-size="3.5" font-weight="normal" fill="#2a2a2a" text-anchor="start" >DESE</text>
<circle cx="97" cy="804.8" r="1.35" fill="#8b6a9b"/>
<text x="52.6" y="824.2" font-family="Liberation Sans" font-size="3.5" font-weight="normal" fill="#2a2a2a" text-anchor="end" >SID</text>
<circle cx="53.2" cy="820.1" r="1.35" fill="#7f7f7f"/>
<text x="88.19999999999999" y="823" font-family="Liberation Sans" font-size="3.5" font-weight="normal" fill="#2a2a2a" text-anchor="end" >GUM</text>
<circle cx="87.6" cy="825" r="1.35" fill="#e066a8"/>
<text x="106.3" y="823.5" font-family="Liberation Sans" font-size="3.5" font-weight="normal" fill="#2a2a2a" text-anchor="end" >TAGG</text>
<circle cx="105.1" cy="819.5" r="1.35" fill="#8b6a9b"/>
<text x="95.8" y="830.0" font-family="Liberation Sans" font-size="3.5" font-weight="normal" fill="#2a2a2a" text-anchor="start" >NI</text>
<circle cx="93.8" cy="826.6" r="1.35" fill="#8b6a9b"/>
<text x="82.39999999999999" y="832.4" font-family="Liberation Sans" font-size="3.5" font-weight="normal" fill="#2a2a2a" text-anchor="start" >ABR</text>
<circle cx="82.1" cy="834.4" r="1.35" fill="#e066a8"/>
<text x="117.39999999999999" y="826.8" font-family="Liberation Sans" font-size="3.5" font-weight="normal" fill="#2a2a2a" text-anchor="start" >WYG</text>
<circle cx="118.3" cy="828.9" r="1.35" fill="#e066a8"/>
<text x="61.400000000000006" y="858.3000000000001" font-family="Liberation Sans" font-size="3.5" font-weight="normal" fill="#2a2a2a" text-anchor="end" >OSS</text>
<circle cx="61.7" cy="854.6" r="1.35" fill="#7f7f7f"/>
<text x="109.19999999999999" y="863.1" font-family="Liberation Sans" font-size="3.5" font-weight="normal" fill="#2a2a2a" text-anchor="end" >KEF</text>
<circle cx="109.6" cy="859.5" r="1.35" fill="#e066a8"/>
<text x="122.60000000000001" y="794.6" font-family="Liberation Sans" font-size="3.5" font-weight="normal" fill="#2a2a2a" text-anchor="start" >TUN</text>
<circle cx="122.4" cy="796.7" r="1.35" fill="#9b30ff"/>
<text x="159.1" y="798.1" font-family="Liberation Sans" font-size="3.5" font-weight="normal" fill="#2a2a2a" text-anchor="start" >ALG</text>
<circle cx="159" cy="800.2" r="1.35" fill="#0000cd"/>
<text x="131.39999999999998" y="815.2" font-family="Liberation Sans" font-size="3.5" font-weight="normal" fill="#2a2a2a" text-anchor="end" >GAL</text>
<circle cx="132.2" cy="817.1" r="1.35" fill="#87cefa"/>
<text x="131.39999999999998" y="820.5" font-family="Liberation Sans" font-size="3.5" font-weight="normal" fill="#2a2a2a" text-anchor="end" >KAR</text>
<circle cx="133.7" cy="822.1" r="1.35" fill="#8b5a2b"/>
<text x="138.89999999999998" y="827.7" font-family="Liberation Sans" font-size="3.5" font-weight="normal" fill="#2a2a2a" text-anchor="start" >SEB</text>
<circle cx="138.7" cy="824.1" r="1.35" fill="#8b5a2b"/>
<text x="153.5" y="821.5" font-family="Liberation Sans" font-size="3.5" font-weight="normal" fill="#2a2a2a" text-anchor="end" >DAJ</text>
<circle cx="153.9" cy="818.3" r="1.35" fill="#000000"/>
<text x="138.9" y="837.7" font-family="Liberation Sans" font-size="3.5" font-weight="normal" fill="#2a2a2a" text-anchor="end" >SEA</text>
<circle cx="138.9" cy="834.1" r="1.35" fill="#87cefa"/>
<text x="170.5" y="833.8" font-family="Liberation Sans" font-size="3.5" font-weight="normal" fill="#2a2a2a" text-anchor="end" >SHL</text>
<circle cx="171.1" cy="830.5" r="1.35" fill="#00e5ee"/>
<text x="186.8" y="821.3000000000001" font-family="Liberation Sans" font-size="3.5" font-weight="normal" fill="#2a2a2a" text-anchor="end" >MOR</text>
<circle cx="186.8" cy="824.1" r="1.35" fill="#4169e1"/>
<text x="189.20000000000002" y="827.1" font-family="Liberation Sans" font-size="3.5" font-weight="normal" fill="#2a2a2a" text-anchor="end" >MAA</text>
<circle cx="191.3" cy="829.5" r="1.35" fill="#000000"/>
<text x="188.8" y="839.3000000000001" font-family="Liberation Sans" font-size="3.5" font-weight="normal" fill="#2a2a2a" text-anchor="end" >TAR</text>
<circle cx="188.9" cy="836.1" r="1.35" fill="#f4a040"/>
<text x="158.20000000000002" y="844.3" font-family="Liberation Sans" font-size="3.5" font-weight="normal" fill="#2a2a2a" text-anchor="end" >FRW</text>
<circle cx="158.8" cy="846.3" r="1.35" fill="#000000"/>
<text x="155.3" y="849.8000000000001" font-family="Liberation Sans" font-size="3.5" font-weight="normal" fill="#2a2a2a" text-anchor="start" >CAM</text>
<circle cx="155.5" cy="852.1" r="1.35" fill="#000000"/>
<text x="145.9" y="855.8000000000001" font-family="Liberation Sans" font-size="3.5" font-weight="normal" fill="#2a2a2a" text-anchor="end" >MUB</text>
<circle cx="145.9" cy="852.7" r="1.35" fill="#8b5a2b"/>
<text x="171.29999999999998" y="856.0" font-family="Liberation Sans" font-size="3.5" font-weight="normal" fill="#2a2a2a" text-anchor="start" >RSK</text>
<circle cx="171.1" cy="858.7" r="1.35" fill="#00e5ee"/>
<text x="164.1" y="862.5999999999999" font-family="Liberation Sans" font-size="3.5" font-weight="normal" fill="#2a2a2a" text-anchor="start" >BUR</text>
<circle cx="164.1" cy="865.3" r="1.35" fill="#ee6a50"/>
<text x="239.89999999999998" y="811.3000000000001" font-family="Liberation Sans" font-size="3.5" font-weight="normal" fill="#2a2a2a" text-anchor="start" >MTB</text>
<circle cx="240.2" cy="813.1" r="1.35" fill="#cdcd00"/>
<text x="227.20000000000002" y="827.2" font-family="Liberation Sans" font-size="3.5" font-weight="normal" fill="#2a2a2a" text-anchor="end" >GUE</text>
<circle cx="226.8" cy="823.1" r="1.35" fill="#f4a040"/>
<text x="208.3" y="826.9" font-family="Liberation Sans" font-size="3.5" font-weight="normal" fill="#2a2a2a" text-anchor="start" >PEU</text>
<circle cx="208.5" cy="828.8" r="1.35" fill="#f4a040"/>
<text x="194.2" y="836.7" font-family="Liberation Sans" font-size="3.5" font-weight="normal" fill="#2a2a2a" text-anchor="start" >SAH</text>
<circle cx="194.2" cy="832.6" r="1.35" fill="#00ee00"/>
<text x="218.7" y="836.6" font-family="Liberation Sans" font-size="3.5" font-weight="normal" fill="#2a2a2a" text-anchor="start" >SON</text>
<circle cx="218.7" cy="838.4" r="1.35" fill="#f4a040"/>
<text x="278.5" y="843.5" font-family="Liberation Sans" font-size="3.5" font-weight="normal" fill="#2a2a2a" text-anchor="start" >SAFR</text>
<circle cx="279.3" cy="845.6" r="1.35" fill="#ff00ff"/>
<text x="198.0" y="878.8000000000001" font-family="Liberation Sans" font-size="3.5" font-weight="normal" fill="#2a2a2a" text-anchor="start" >WAO</text>
<circle cx="198.5" cy="880.6" r="1.35" fill="#00e5ee"/>
<text x="176.8" y="888.0" font-family="Liberation Sans" font-size="3.5" font-weight="normal" fill="#2a2a2a" text-anchor="start" >WAO_CM</text>
<circle cx="181.5" cy="890.5" r="1.35" fill="#000000"/>
<text x="227.9" y="921.5" font-family="Liberation Sans" font-size="3.5" font-weight="normal" fill="#2a2a2a" text-anchor="end" >MSH</text>
<circle cx="227.9" cy="917.9" r="1.35" fill="#e8c800"/>
<text x="207.1" y="932.6999999999999" font-family="Liberation Sans" font-size="3.5" font-weight="normal" fill="#2a2a2a" text-anchor="end" >DZO</text>
<circle cx="207.1" cy="928.8" r="1.35" fill="#6a5acd"/>
<text x="257.1" y="960.5" font-family="Liberation Sans" font-size="3.5" font-weight="normal" fill="#2a2a2a" text-anchor="start" >LNO</text>
<circle cx="257.1" cy="962.8" r="1.35" fill="#006400"/>
<rect x="44.2" y="951.4" width="108.60000000000001" height="17.100000000000023" stroke="#ec4452" stroke-width="1.6" fill="#fff" rx="1"/>
<text x="50.9" y="963.2" font-family="Liberation Serif" font-size="9.3" font-weight="normal" fill="#333" text-anchor="start" textLength="78.2" lengthAdjust="spacingAndGlyphs" stroke="#333" stroke-width="0.32">R=-0.46, p= 0.0044</text>
<line x1="383.7" y1="788.5" x2="383.7" y2="972.3" stroke="#f3f3f3" stroke-width="1.3" />
<line x1="465.8" y1="788.5" x2="465.8" y2="972.3" stroke="#f3f3f3" stroke-width="1.3" />
<line x1="547.0" y1="788.5" x2="547.0" y2="972.3" stroke="#f3f3f3" stroke-width="1.3" />
<line x1="322.2" y1="799.9" x2="573.3" y2="799.9" stroke="#f3f3f3" stroke-width="1.3" />
<line x1="322.2" y1="838.2" x2="573.3" y2="838.2" stroke="#f3f3f3" stroke-width="1.3" />
<line x1="322.2" y1="876.1" x2="573.3" y2="876.1" stroke="#f3f3f3" stroke-width="1.3" />
<line x1="322.2" y1="914.3" x2="573.3" y2="914.3" stroke="#f3f3f3" stroke-width="1.3" />
<line x1="322.2" y1="952.5" x2="573.3" y2="952.5" stroke="#f3f3f3" stroke-width="1.3" />
<line x1="343.2" y1="788.5" x2="343.2" y2="972.3" stroke="#f1f1f1" stroke-width="1.4" />
<line x1="424.9" y1="788.5" x2="424.9" y2="972.3" stroke="#f1f1f1" stroke-width="1.4" />
<line x1="506.3" y1="788.5" x2="506.3" y2="972.3" stroke="#f1f1f1" stroke-width="1.4" />
<line x1="322.2" y1="819.0" x2="573.3" y2="819.0" stroke="#f1f1f1" stroke-width="1.4" />
<line x1="322.2" y1="857.2" x2="573.3" y2="857.2" stroke="#f1f1f1" stroke-width="1.4" />
<line x1="322.2" y1="895.5" x2="573.3" y2="895.5" stroke="#f1f1f1" stroke-width="1.4" />
<line x1="322.2" y1="933.5" x2="573.3" y2="933.5" stroke="#f1f1f1" stroke-width="1.4" />
<path d="M322.2 972.3 L322.2 788.5 L573.3 788.5" stroke="#cfcfcf" stroke-width="1.2" fill="none"/>
<path d="M573.3 788.5 L573.3 972.3 L322.2 972.3" stroke="#b4b4b4" stroke-width="1.4" fill="none"/>
<line x1="320.7" y1="819.0" x2="322.2" y2="819.0" stroke="#555" stroke-width="0.6" />
<text x="320.2" y="820.2" font-family="Liberation Sans" font-size="3.6" font-weight="normal" fill="#555" text-anchor="end" >0.42</text>
<line x1="320.7" y1="857.2" x2="322.2" y2="857.2" stroke="#555" stroke-width="0.6" />
<text x="320.2" y="858.4000000000001" font-family="Liberation Sans" font-size="3.6" font-weight="normal" fill="#555" text-anchor="end" >0.40</text>
<line x1="320.7" y1="895.5" x2="322.2" y2="895.5" stroke="#555" stroke-width="0.6" />
<text x="320.2" y="896.7" font-family="Liberation Sans" font-size="3.6" font-weight="normal" fill="#555" text-anchor="end" >0.38</text>
<line x1="320.7" y1="933.5" x2="322.2" y2="933.5" stroke="#555" stroke-width="0.6" />
<text x="320.2" y="934.7" font-family="Liberation Sans" font-size="3.6" font-weight="normal" fill="#555" text-anchor="end" >0.36</text>
<line x1="320.7" y1="971.6" x2="322.2" y2="971.6" stroke="#555" stroke-width="0.6" />
<text x="320.2" y="972.8000000000001" font-family="Liberation Sans" font-size="3.6" font-weight="normal" fill="#555" text-anchor="end" >0.34</text>
<line x1="343.2" y1="972.3" x2="343.2" y2="973.8" stroke="#555" stroke-width="0.6" />
<text x="343.2" y="976.9" font-family="Liberation Sans" font-size="3.6" font-weight="normal" fill="#555" text-anchor="middle" >2000</text>
<line x1="424.9" y1="972.3" x2="424.9" y2="973.8" stroke="#555" stroke-width="0.6" />
<text x="424.9" y="976.9" font-family="Liberation Sans" font-size="3.6" font-weight="normal" fill="#555" text-anchor="middle" >4000</text>
<line x1="506.3" y1="972.3" x2="506.3" y2="973.8" stroke="#555" stroke-width="0.6" />
<text x="506.3" y="976.9" font-family="Liberation Sans" font-size="3.6" font-weight="normal" fill="#555" text-anchor="middle" >6000</text>
<text x="310.5" y="878" font-family="Liberation Sans" font-size="3.8" font-weight="normal" fill="#222" text-anchor="middle" transform="rotate(-90 310.5 878)" textLength="46" lengthAdjust="spacingAndGlyphs">Expected heterozygosity (He)</text>
<text x="448" y="981.5" font-family="Liberation Sans" font-size="3.9" font-weight="normal" fill="#222" text-anchor="middle" >Km from domestication site (Ganj Dareh)</text>
<line x1="333.4" y1="833.5" x2="561.8" y2="896" stroke="#262626" stroke-width="1.4" />
<text x="341.9" y="817.2" font-family="Liberation Sans" font-size="3.5" font-weight="normal" fill="#2a2a2a" text-anchor="start" >BRK</text>
<circle cx="342.9" cy="819.5" r="1.35" fill="#7f7f7f"/>
<text x="334.3" y="822.1" font-family="Liberation Sans" font-size="3.5" font-weight="normal" fill="#2a2a2a" text-anchor="start" >SID</text>
<circle cx="333.2" cy="824.5" r="1.35" fill="#7f7f7f"/>
<text x="341.40000000000003" y="840.0" font-family="Liberation Sans" font-size="3.5" font-weight="normal" fill="#2a2a2a" text-anchor="end" >OSS</text>
<circle cx="342.3" cy="836.5" r="1.35" fill="#7f7f7f"/>
<text x="376.4" y="832.1" font-family="Liberation Sans" font-size="3.5" font-weight="normal" fill="#2a2a2a" text-anchor="start" >DESE</text>
<circle cx="377.9" cy="834.4" r="1.35" fill="#8b6a9b"/>
<text x="372.90000000000003" y="841.4000000000001" font-family="Liberation Sans" font-size="3.5" font-weight="normal" fill="#2a2a2a" text-anchor="end" >NI</text>
<circle cx="374.6" cy="838.2" r="1.35" fill="#8b6a9b"/>
<text x="387.5" y="853.6" font-family="Liberation Sans" font-size="3.5" font-weight="normal" fill="#2a2a2a" text-anchor="end" >TAGG</text>
<circle cx="385.7" cy="850.4" r="1.35" fill="#8b6a9b"/>
<text x="364.9" y="855.4000000000001" font-family="Liberation Sans" font-size="3.5" font-weight="normal" fill="#2a2a2a" text-anchor="start" >GUM</text>
<circle cx="368.2" cy="857.7" r="1.35" fill="#e066a8"/>
<text x="362.4" y="868.2" font-family="Liberation Sans" font-size="3.5" font-weight="normal" fill="#2a2a2a" text-anchor="end" >ABR</text>
<circle cx="362.4" cy="864.7" r="1.35" fill="#e066a8"/>
<text x="399.2" y="863.6" font-family="Liberation Sans" font-size="3.5" font-weight="normal" fill="#2a2a2a" text-anchor="end" >WYG</text>
<circle cx="398.9" cy="860.1" r="1.35" fill="#e066a8"/>
<text x="390.4" y="870.0999999999999" font-family="Liberation Sans" font-size="3.5" font-weight="normal" fill="#2a2a2a" text-anchor="start" >KEF</text>
<circle cx="390" cy="872.3" r="1.35" fill="#e066a8"/>
<text x="440.0" y="800.5" font-family="Liberation Sans" font-size="3.5" font-weight="normal" fill="#2a2a2a" text-anchor="end" >ALG</text>
<circle cx="440.3" cy="796.4" r="1.35" fill="#0000cd"/>
<text x="403.8" y="817.2" font-family="Liberation Sans" font-size="3.5" font-weight="normal" fill="#2a2a2a" text-anchor="start" >TUN</text>
<circle cx="403.2" cy="819.5" r="1.35" fill="#9b30ff"/>
<text x="468.0" y="817.1999999999999" font-family="Liberation Sans" font-size="3.5" font-weight="normal" fill="#2a2a2a" text-anchor="start" >MOR</text>
<circle cx="468.6" cy="819.8" r="1.35" fill="#4169e1"/>
<text x="414.90000000000003" y="849.0" font-family="Liberation Sans" font-size="3.5" font-weight="normal" fill="#2a2a2a" text-anchor="start" >KAR</text>
<circle cx="414.6" cy="851.3" r="1.35" fill="#8b5a2b"/>
<text x="412.5" y="856.0" font-family="Liberation Sans" font-size="3.5" font-weight="normal" fill="#2a2a2a" text-anchor="end" >CAP</text>
<circle cx="412.8" cy="852.8" r="1.35" fill="#87cefa"/>
<text x="420.1" y="854.9000000000001" font-family="Liberation Sans" font-size="3.5" font-weight="normal" fill="#2a2a2a" text-anchor="start" >SEA</text>
<circle cx="419.5" cy="857.2" r="1.35" fill="#87cefa"/>
<text x="419.5" y="861.2" font-family="Liberation Sans" font-size="3.5" font-weight="normal" fill="#2a2a2a" text-anchor="end" >SEB</text>
<circle cx="419.8" cy="863.6" r="1.35" fill="#8b5a2b"/>
<text x="426.3" y="868.2" font-family="Liberation Sans" font-size="3.5" font-weight="normal" fill="#2a2a2a" text-anchor="end" >MUB</text>
<circle cx="427.1" cy="870.6" r="1.35" fill="#8b5a2b"/>
<text x="430.0" y="869.8" font-family="Liberation Sans" font-size="3.5" font-weight="normal" fill="#2a2a2a" text-anchor="start" >DAJ</text>
<circle cx="434.7" cy="872.3" r="1.35" fill="#000000"/>
<text x="437.0" y="877.3" font-family="Liberation Sans" font-size="3.5" font-weight="normal" fill="#2a2a2a" text-anchor="end" >CAM</text>
<circle cx="436.5" cy="873.9" r="1.35" fill="#000000"/>
<text x="440" y="871.0" font-family="Liberation Sans" font-size="3.5" font-weight="normal" fill="#2a2a2a" text-anchor="start" >FRW</text>
<circle cx="440" cy="873.9" r="1.35" fill="#000000"/>
<text x="452.2" y="857.5" font-family="Liberation Sans" font-size="3.5" font-weight="normal" fill="#2a2a2a" text-anchor="end" >SHL</text>
<circle cx="452.5" cy="854.2" r="1.35" fill="#00e5ee"/>
<text x="451.6" y="865.3" font-family="Liberation Sans" font-size="3.5" font-weight="normal" fill="#2a2a2a" text-anchor="end" >RSK</text>
<circle cx="452.5" cy="862.4" r="1.35" fill="#00e5ee"/>
<text x="472.7" y="857.7" font-family="Liberation Sans" font-size="3.5" font-weight="normal" fill="#2a2a2a" text-anchor="end" >MAA</text>
<circle cx="472.7" cy="860.7" r="1.35" fill="#000000"/>
<text x="470.29999999999995" y="866.8" font-family="Liberation Sans" font-size="3.5" font-weight="normal" fill="#2a2a2a" text-anchor="end" >TAR</text>
<circle cx="470.9" cy="863.9" r="1.35" fill="#f4a040"/>
<text x="476.0" y="866.2" font-family="Liberation Sans" font-size="3.5" font-weight="normal" fill="#2a2a2a" text-anchor="start" >SAH</text>
<circle cx="475.7" cy="862.5" r="1.35" fill="#00ee00"/>
<text x="563.0999999999999" y="827.7" font-family="Liberation Sans" font-size="3.5" font-weight="normal" fill="#2a2a2a" text-anchor="end" >SAFR</text>
<circle cx="562.3" cy="824.2" r="1.35" fill="#ff00ff"/>
<text x="522.5" y="860.6" font-family="Liberation Sans" font-size="3.5" font-weight="normal" fill="#2a2a2a" text-anchor="end" >MTB</text>
<circle cx="522.5" cy="856.5" r="1.35" fill="#cdcd00"/>
<text x="489.4" y="876.5" font-family="Liberation Sans" font-size="3.5" font-weight="normal" fill="#2a2a2a" text-anchor="end" >PEU</text>
<circle cx="490.2" cy="872.6" r="1.35" fill="#f4a040"/>
<text x="500.8" y="870.3" font-family="Liberation Sans" font-size="3.5" font-weight="normal" fill="#2a2a2a" text-anchor="start" >SON</text>
<circle cx="500.8" cy="872.3" r="1.35" fill="#f4a040"/>
<text x="508.8" y="888.6" font-family="Liberation Sans" font-size="3.5" font-weight="normal" fill="#2a2a2a" text-anchor="end" >GUE</text>
<circle cx="508.8" cy="884.6" r="1.35" fill="#f4a040"/>
<text x="480.8" y="900.2" font-family="Liberation Sans" font-size="3.5" font-weight="normal" fill="#2a2a2a" text-anchor="end" >WAO</text>
<circle cx="480.1" cy="897" r="1.35" fill="#00e5ee"/>
<text x="488.3" y="905.6" font-family="Liberation Sans" font-size="3.5" font-weight="normal" fill="#2a2a2a" text-anchor="start" >DZO</text>
<circle cx="488.3" cy="907.7" r="1.35" fill="#6a5acd"/>
<text x="459.2" y="905.3" font-family="Liberation Sans" font-size="3.5" font-weight="normal" fill="#2a2a2a" text-anchor="start" >WAO_CM</text>
<circle cx="463.2" cy="907.3" r="1.35" fill="#000000"/>
<text x="510.7" y="928.1999999999999" font-family="Liberation Sans" font-size="3.5" font-weight="normal" fill="#2a2a2a" text-anchor="end" >MSH</text>
<circle cx="510.2" cy="924.8" r="1.35" fill="#e8c800"/>
<text x="444.29999999999995" y="895.5" font-family="Liberation Sans" font-size="3.5" font-weight="normal" fill="#2a2a2a" text-anchor="end" >BUR</text>
<circle cx="445.4" cy="892.3" r="1.35" fill="#ee6a50"/>
<text x="539.2" y="961.0" font-family="Liberation Sans" font-size="3.5" font-weight="normal" fill="#2a2a2a" text-anchor="start" >LNO</text>
<circle cx="539.2" cy="963.9" r="1.35" fill="#006400"/>
<rect x="324.8" y="952.9" width="108.19999999999999" height="17.100000000000023" stroke="#ec4452" stroke-width="1.6" fill="#fff" rx="1"/>
<text x="331.3" y="965.0" font-family="Liberation Serif" font-size="9.3" font-weight="normal" fill="#333" text-anchor="start" textLength="77.8" lengthAdjust="spacingAndGlyphs" stroke="#333" stroke-width="0.32">R=-0.49, p= 0.0023</text>
<line x1="73.3" y1="1066.5" x2="73.3" y2="1280.0" stroke="#f3f3f3" stroke-width="1.3" />
<line x1="147.5" y1="1066.5" x2="147.5" y2="1280.0" stroke="#f3f3f3" stroke-width="1.3" />
<line x1="220.7" y1="1066.5" x2="220.7" y2="1280.0" stroke="#f3f3f3" stroke-width="1.3" />
<line x1="29.1" y1="1105.5" x2="292.8" y2="1105.5" stroke="#f3f3f3" stroke-width="1.3" />
<line x1="29.1" y1="1152.7" x2="292.8" y2="1152.7" stroke="#f3f3f3" stroke-width="1.3" />
<line x1="29.1" y1="1200.5" x2="292.8" y2="1200.5" stroke="#f3f3f3" stroke-width="1.3" />
<line x1="29.1" y1="1248.4" x2="292.8" y2="1248.4" stroke="#f3f3f3" stroke-width="1.3" />
<line x1="36.7" y1="1066.5" x2="36.7" y2="1280.0" stroke="#f1f1f1" stroke-width="1.4" />
<line x1="110.3" y1="1066.5" x2="110.3" y2="1280.0" stroke="#f1f1f1" stroke-width="1.4" />
<line x1="184.1" y1="1066.5" x2="184.1" y2="1280.0" stroke="#f1f1f1" stroke-width="1.4" />
<line x1="257.7" y1="1066.5" x2="257.7" y2="1280.0" stroke="#f1f1f1" stroke-width="1.4" />
<line x1="29.1" y1="1082.4" x2="292.8" y2="1082.4" stroke="#f1f1f1" stroke-width="1.4" />
<line x1="29.1" y1="1129.2" x2="292.8" y2="1129.2" stroke="#f1f1f1" stroke-width="1.4" />
<line x1="29.1" y1="1176.5" x2="292.8" y2="1176.5" stroke="#f1f1f1" stroke-width="1.4" />
<line x1="29.1" y1="1224.4" x2="292.8" y2="1224.4" stroke="#f1f1f1" stroke-width="1.4" />
<line x1="29.1" y1="1272.2" x2="292.8" y2="1272.2" stroke="#f1f1f1" stroke-width="1.4" />
<path d="M29.1 1280.0 L29.1 1066.5 L292.8 1066.5" stroke="#cfcfcf" stroke-width="1.2" fill="none"/>
<path d="M292.8 1066.5 L292.8 1280.0 L29.1 1280.0" stroke="#b4b4b4" stroke-width="1.4" fill="none"/>
<line x1="27.6" y1="1082.4" x2="29.1" y2="1082.4" stroke="#555" stroke-width="0.6" />
<text x="27.1" y="1083.6000000000001" font-family="Liberation Sans" font-size="3.6" font-weight="normal" fill="#555" text-anchor="end" >0.42</text>
<line x1="27.6" y1="1129.2" x2="29.1" y2="1129.2" stroke="#555" stroke-width="0.6" />
<text x="27.1" y="1130.4" font-family="Liberation Sans" font-size="3.6" font-weight="normal" fill="#555" text-anchor="end" >0.40</text>
<line x1="27.6" y1="1176.5" x2="29.1" y2="1176.5" stroke="#555" stroke-width="0.6" />
<text x="27.1" y="1177.7" font-family="Liberation Sans" font-size="3.6" font-weight="normal" fill="#555" text-anchor="end" >0.38</text>
<line x1="27.6" y1="1224.4" x2="29.1" y2="1224.4" stroke="#555" stroke-width="0.6" />
<text x="27.1" y="1225.6000000000001" font-family="Liberation Sans" font-size="3.6" font-weight="normal" fill="#555" text-anchor="end" >0.36</text>
<line x1="27.6" y1="1272.2" x2="29.1" y2="1272.2" stroke="#555" stroke-width="0.6" />
<text x="27.1" y="1273.4" font-family="Liberation Sans" font-size="3.6" font-weight="normal" fill="#555" text-anchor="end" >0.34</text>
<line x1="36.7" y1="1280.0" x2="36.7" y2="1281.5" stroke="#555" stroke-width="0.6" />
<text x="36.7" y="1284.6" font-family="Liberation Sans" font-size="3.6" font-weight="normal" fill="#555" text-anchor="middle" >0</text>
<line x1="110.3" y1="1280.0" x2="110.3" y2="1281.5" stroke="#555" stroke-width="0.6" />
<text x="110.3" y="1284.6" font-family="Liberation Sans" font-size="3.6" font-weight="normal" fill="#555" text-anchor="middle" >2000</text>
<line x1="184.1" y1="1280.0" x2="184.1" y2="1281.5" stroke="#555" stroke-width="0.6" />
<text x="184.1" y="1284.6" font-family="Liberation Sans" font-size="3.6" font-weight="normal" fill="#555" text-anchor="middle" >4000</text>
<line x1="257.7" y1="1280.0" x2="257.7" y2="1281.5" stroke="#555" stroke-width="0.6" />
<text x="257.7" y="1284.6" font-family="Liberation Sans" font-size="3.6" font-weight="normal" fill="#555" text-anchor="middle" >6000</text>
<text x="17.5" y="1178.6" font-family="Liberation Sans" font-size="5.1" font-weight="normal" fill="#222" text-anchor="middle" transform="rotate(-90 17.5 1178.6)" textLength="69" lengthAdjust="spacingAndGlyphs">Observed heterozygosity (Ho)</text>
<text x="160" y="1289.0" font-family="Liberation Sans" font-size="4.3" font-weight="normal" fill="#222" text-anchor="middle" >Km from domestication site (Ganj Dareh)</text>
<line x1="41" y1="1142.1" x2="281" y2="1217.2" stroke="#262626" stroke-width="1.4" />
<text x="80.89999999999999" y="1073.8" font-family="Liberation Sans" font-size="3.5" font-weight="normal" fill="#2a2a2a" text-anchor="start" >KIL</text>
<circle cx="80.1" cy="1075.8" r="1.45" fill="#000000"/>
<text x="73.2" y="1086.8" font-family="Liberation Sans" font-size="3.5" font-weight="normal" fill="#2a2a2a" text-anchor="start" >KLS</text>
<circle cx="72.5" cy="1088.6" r="1.45" fill="#000000"/>
<text x="92.9" y="1092.0" font-family="Liberation Sans" font-size="3.5" font-weight="normal" fill="#2a2a2a" text-anchor="start" >ANK</text>
<circle cx="92.4" cy="1094.3" r="1.45" fill="#000000"/>
<text x="37.9" y="1104.3" font-family="Liberation Sans" font-size="3.5" font-weight="normal" fill="#2a2a2a" text-anchor="start" >IRA_KUR</text>
<circle cx="41" cy="1106.1" r="1.45" fill="#00ee00"/>
<text x="125.1" y="1137.1999999999998" font-family="Liberation Sans" font-size="3.5" font-weight="normal" fill="#2a2a2a" text-anchor="start" >PAH</text>
<circle cx="124.5" cy="1139.6" r="1.45" fill="#ee6a50"/>
<text x="118.7" y="1146.3999999999999" font-family="Liberation Sans" font-size="3.5" font-weight="normal" fill="#2a2a2a" text-anchor="end" >THA</text>
<circle cx="119.3" cy="1142.3" r="1.45" fill="#ee6a50"/>
<text x="152.0" y="1156.6" font-family="Liberation Sans" font-size="3.5" font-weight="normal" fill="#2a2a2a" text-anchor="end" >NJ</text>
<circle cx="153.4" cy="1152.8" r="1.45" fill="#0000cd"/>
<text x="125.1" y="1157.8" font-family="Liberation Sans" font-size="3.5" font-weight="normal" fill="#2a2a2a" text-anchor="start" >BAB</text>
<circle cx="124.5" cy="1160.6" r="1.45" fill="#ee6a50"/>
<text x="118.7" y="1165.6" font-family="Liberation Sans" font-size="3.5" font-weight="normal" fill="#2a2a2a" text-anchor="end" >SAN</text>
<circle cx="119.3" cy="1161.8" r="1.45" fill="#ee6a50"/>
<text x="263" y="1102.3000000000002" font-family="Liberation Sans" font-size="3.5" font-weight="normal" fill="#2a2a2a" text-anchor="end" >JN</text>
<circle cx="264" cy="1098.9" r="1.45" fill="#0000cd"/>
<text x="170.7" y="1118.6" font-family="Liberation Sans" font-size="3.5" font-weight="normal" fill="#2a2a2a" text-anchor="end" >GOD</text>
<circle cx="170.7" cy="1114.6" r="1.45" fill="#0000cd"/>
<text x="232.5" y="1175.8" font-family="Liberation Sans" font-size="3.5" font-weight="normal" fill="#2a2a2a" text-anchor="end" >AC</text>
<circle cx="234" cy="1172.1" r="1.45" fill="#0000cd"/>
<text x="125.1" y="1194.0" font-family="Liberation Sans" font-size="3.5" font-weight="normal" fill="#2a2a2a" text-anchor="start" >TED</text>
<circle cx="124.5" cy="1196.8" r="1.45" fill="#ee6a50"/>
<text x="118.5" y="1203.0" font-family="Liberation Sans" font-size="3.5" font-weight="normal" fill="#2a2a2a" text-anchor="end" >TAP</text>
<circle cx="119" cy="1205.3" r="1.45" fill="#ee6a50"/>
<text x="120.1" y="1212.3" font-family="Liberation Sans" font-size="3.5" font-weight="normal" fill="#2a2a2a" text-anchor="start" >PAT</text>
<circle cx="119" cy="1209.1" r="1.45" fill="#ee6a50"/>
<text x="125.1" y="1220.9" font-family="Liberation Sans" font-size="3.5" font-weight="normal" fill="#2a2a2a" text-anchor="start" >DOP</text>
<circle cx="124.5" cy="1223.7" r="1.45" fill="#ee6a50"/>
<text x="117.3" y="1227.5" font-family="Liberation Sans" font-size="3.5" font-weight="normal" fill="#2a2a2a" text-anchor="end" >KAC</text>
<circle cx="119" cy="1226.4" r="1.45" fill="#ee6a50"/>
<text x="119.3" y="1233.6999999999998" font-family="Liberation Sans" font-size="3.5" font-weight="normal" fill="#2a2a2a" text-anchor="start" >KAM</text>
<circle cx="119" cy="1230.1" r="1.45" fill="#ee6a50"/>
<text x="118.5" y="1240.7" font-family="Liberation Sans" font-size="3.5" font-weight="normal" fill="#2a2a2a" text-anchor="end" >BUT</text>
<circle cx="119" cy="1236.9" r="1.45" fill="#ee6a50"/>
<text x="118.5" y="1262.6" font-family="Liberation Sans" font-size="3.5" font-weight="normal" fill="#2a2a2a" text-anchor="end" >BRI</text>
<circle cx="119.3" cy="1259.1" r="1.45" fill="#ee6a50"/>
<text x="239.39999999999998" y="1248.5" font-family="Liberation Sans" font-size="3.5" font-weight="normal" fill="#2a2a2a" text-anchor="end" >LP</text>
<circle cx="240.7" cy="1243.9" r="1.45" fill="#0000cd"/>
<text x="282.5" y="1268.0" font-family="Liberation Sans" font-size="3.5" font-weight="normal" fill="#2a2a2a" text-anchor="start" >GF</text>
<circle cx="281" cy="1270.4" r="1.45" fill="#0000cd"/>
<rect x="30.4" y="1260.4" width="80.30000000000001" height="16.899999999999864" stroke="#ec4452" stroke-width="1.6" fill="#fff" rx="1"/>
<text x="36.1" y="1272.8" font-family="Liberation Serif" font-size="10.3" font-weight="normal" fill="#333" text-anchor="start" textLength="68.2" lengthAdjust="spacingAndGlyphs" stroke="#333" stroke-width="0.18">R= -0.32, p = 0.15</text>
<line x1="366.6" y1="1066.0" x2="366.6" y2="1282.4" stroke="#f3f3f3" stroke-width="1.3" />
<line x1="441.3" y1="1066.0" x2="441.3" y2="1282.4" stroke="#f3f3f3" stroke-width="1.3" />
<line x1="515.3" y1="1066.0" x2="515.3" y2="1282.4" stroke="#f3f3f3" stroke-width="1.3" />
<line x1="321.5" y1="1092.6" x2="588.5" y2="1092.6" stroke="#f3f3f3" stroke-width="1.3" />
<line x1="321.5" y1="1154.4" x2="588.5" y2="1154.4" stroke="#f3f3f3" stroke-width="1.3" />
<line x1="321.5" y1="1216.2" x2="588.5" y2="1216.2" stroke="#f3f3f3" stroke-width="1.3" />
<line x1="321.5" y1="1277.6" x2="588.5" y2="1277.6" stroke="#f3f3f3" stroke-width="1.3" />
<line x1="328.8" y1="1066.0" x2="328.8" y2="1282.4" stroke="#f1f1f1" stroke-width="1.4" />
<line x1="403.4" y1="1066.0" x2="403.4" y2="1282.4" stroke="#f1f1f1" stroke-width="1.4" />
<line x1="478.5" y1="1066.0" x2="478.5" y2="1282.4" stroke="#f1f1f1" stroke-width="1.4" />
<line x1="552.6" y1="1066.0" x2="552.6" y2="1282.4" stroke="#f1f1f1" stroke-width="1.4" />
<line x1="321.5" y1="1123.5" x2="588.5" y2="1123.5" stroke="#f1f1f1" stroke-width="1.4" />
<line x1="321.5" y1="1185.5" x2="588.5" y2="1185.5" stroke="#f1f1f1" stroke-width="1.4" />
<line x1="321.5" y1="1247.2" x2="588.5" y2="1247.2" stroke="#f1f1f1" stroke-width="1.4" />
<path d="M321.5 1282.4 L321.5 1066.0 L588.5 1066.0" stroke="#cfcfcf" stroke-width="1.2" fill="none"/>
<path d="M588.5 1066.0 L588.5 1282.4 L321.5 1282.4" stroke="#b4b4b4" stroke-width="1.4" fill="none"/>
<line x1="320.0" y1="1123.5" x2="321.5" y2="1123.5" stroke="#555" stroke-width="0.6" />
<text x="319.5" y="1124.7" font-family="Liberation Sans" font-size="3.6" font-weight="normal" fill="#555" text-anchor="end" >0.40</text>
<line x1="320.0" y1="1185.5" x2="321.5" y2="1185.5" stroke="#555" stroke-width="0.6" />
<text x="319.5" y="1186.7" font-family="Liberation Sans" font-size="3.6" font-weight="normal" fill="#555" text-anchor="end" >0.38</text>
<line x1="320.0" y1="1247.2" x2="321.5" y2="1247.2" stroke="#555" stroke-width="0.6" />
<text x="319.5" y="1248.4" font-family="Liberation Sans" font-size="3.6" font-weight="normal" fill="#555" text-anchor="end" >0.36</text>
<line x1="328.8" y1="1282.4" x2="328.8" y2="1283.9" stroke="#555" stroke-width="0.6" />
<text x="328.8" y="1287.0" font-family="Liberation Sans" font-size="3.6" font-weight="normal" fill="#555" text-anchor="middle" >0</text>
<line x1="403.4" y1="1282.4" x2="403.4" y2="1283.9" stroke="#555" stroke-width="0.6" />
<text x="403.4" y="1287.0" font-family="Liberation Sans" font-size="3.6" font-weight="normal" fill="#555" text-anchor="middle" >2000</text>
<line x1="478.5" y1="1282.4" x2="478.5" y2="1283.9" stroke="#555" stroke-width="0.6" />
<text x="478.5" y="1287.0" font-family="Liberation Sans" font-size="3.6" font-weight="normal" fill="#555" text-anchor="middle" >4000</text>
<line x1="552.6" y1="1282.4" x2="552.6" y2="1283.9" stroke="#555" stroke-width="0.6" />
<text x="552.6" y="1287.0" font-family="Liberation Sans" font-size="3.6" font-weight="normal" fill="#555" text-anchor="middle" >6000</text>
<text x="310.8" y="1176.8" font-family="Liberation Sans" font-size="4.9" font-weight="normal" fill="#222" text-anchor="middle" transform="rotate(-90 310.8 1176.8)" textLength="64" lengthAdjust="spacingAndGlyphs">Expected heterozygosity (He)</text>
<text x="454" y="1292.0" font-family="Liberation Sans" font-size="4.3" font-weight="normal" fill="#222" text-anchor="middle" >Km from domestication site (Ganj Dareh)</text>
<line x1="333.7" y1="1158.3" x2="576.3" y2="1224" stroke="#262626" stroke-width="1.4" />
<text x="365.0" y="1080.6000000000001" font-family="Liberation Sans" font-size="3.5" font-weight="normal" fill="#2a2a2a" text-anchor="end" >KLS</text>
<circle cx="365.6" cy="1076.4" r="1.45" fill="#000000"/>
<text x="374.2" y="1073.6000000000001" font-family="Liberation Sans" font-size="3.5" font-weight="normal" fill="#2a2a2a" text-anchor="start" >KIL</text>
<circle cx="372.8" cy="1075.4" r="1.45" fill="#000000"/>
<text x="385.20000000000005" y="1093.3999999999999" font-family="Liberation Sans" font-size="3.5" font-weight="normal" fill="#2a2a2a" text-anchor="end" >ANK</text>
<circle cx="385.6" cy="1089.1" r="1.45" fill="#000000"/>
<text x="329.8" y="1109.2" font-family="Liberation Sans" font-size="3.5" font-weight="normal" fill="#2a2a2a" text-anchor="start" >IRA_KUR</text>
<circle cx="333.3" cy="1111.4" r="1.45" fill="#00ee00"/>
<text x="464.8" y="1117.2" font-family="Liberation Sans" font-size="3.5" font-weight="normal" fill="#2a2a2a" text-anchor="end" >GOD</text>
<circle cx="464.8" cy="1113" r="1.45" fill="#0000cd"/>
<text x="560.6" y="1097.8999999999999" font-family="Liberation Sans" font-size="3.5" font-weight="normal" fill="#2a2a2a" text-anchor="start" >JN</text>
<circle cx="558.7" cy="1099.8" r="1.45" fill="#0000cd"/>
<text x="413.5" y="1152.9" font-family="Liberation Sans" font-size="3.5" font-weight="normal" fill="#2a2a2a" text-anchor="start" >THA</text>
<circle cx="412.8" cy="1155.5" r="1.45" fill="#ee6a50"/>
<text x="418.90000000000003" y="1165.8" font-family="Liberation Sans" font-size="3.5" font-weight="normal" fill="#2a2a2a" text-anchor="start" >PAH</text>
<circle cx="418.1" cy="1168.3" r="1.45" fill="#ee6a50"/>
<text x="449" y="1171.5" font-family="Liberation Sans" font-size="3.5" font-weight="normal" fill="#2a2a2a" text-anchor="start" >NJ</text>
<circle cx="447" cy="1174.1" r="1.45" fill="#0000cd"/>
<text x="411.9" y="1200.9" font-family="Liberation Sans" font-size="3.5" font-weight="normal" fill="#2a2a2a" text-anchor="end" >TAP</text>
<circle cx="412.5" cy="1197.5" r="1.45" fill="#ee6a50"/>
<text x="418.90000000000003" y="1206.8" font-family="Liberation Sans" font-size="3.5" font-weight="normal" fill="#2a2a2a" text-anchor="start" >TED</text>
<circle cx="418.1" cy="1209.5" r="1.45" fill="#ee6a50"/>
<text x="411.40000000000003" y="1213.5" font-family="Liberation Sans" font-size="3.5" font-weight="normal" fill="#2a2a2a" text-anchor="end" >LOH</text>
<circle cx="412.8" cy="1211.8" r="1.45" fill="#ee6a50"/>
<text x="411.6" y="1218.9" font-family="Liberation Sans" font-size="3.5" font-weight="normal" fill="#2a2a2a" text-anchor="end" >PAT</text>
<circle cx="412.8" cy="1221.5" r="1.45" fill="#ee6a50"/>
<text x="418.40000000000003" y="1227.8" font-family="Liberation Sans" font-size="3.5" font-weight="normal" fill="#2a2a2a" text-anchor="start" >DOP</text>
<circle cx="418.1" cy="1224.1" r="1.45" fill="#ee6a50"/>
<text x="418.90000000000003" y="1236.0" font-family="Liberation Sans" font-size="3.5" font-weight="normal" fill="#2a2a2a" text-anchor="start" >BAB</text>
<circle cx="418.1" cy="1238.7" r="1.45" fill="#ee6a50"/>
<text x="411.6" y="1241.6" font-family="Liberation Sans" font-size="3.5" font-weight="normal" fill="#2a2a2a" text-anchor="end" >BRI</text>
<circle cx="412.8" cy="1244.3" r="1.45" fill="#ee6a50"/>
<text x="415.1" y="1247.4" font-family="Liberation Sans" font-size="3.5" font-weight="normal" fill="#2a2a2a" text-anchor="start" >BUT</text>
<circle cx="412.8" cy="1247.4" r="1.45" fill="#ee6a50"/>
<text x="412.5" y="1253.3" font-family="Liberation Sans" font-size="3.5" font-weight="normal" fill="#2a2a2a" text-anchor="end" >KAC</text>
<circle cx="412.8" cy="1249.2" r="1.45" fill="#ee6a50"/>
<text x="412.8" y="1276.3999999999999" font-family="Liberation Sans" font-size="3.5" font-weight="normal" fill="#2a2a2a" text-anchor="end" >KAM</text>
<circle cx="412.8" cy="1272.6" r="1.45" fill="#ee6a50"/>
<text x="530.3000000000001" y="1202.5" font-family="Liberation Sans" font-size="3.5" font-weight="normal" fill="#2a2a2a" text-anchor="start" >AC</text>
<circle cx="528.7" cy="1204.4" r="1.45" fill="#0000cd"/>
<text x="574.7" y="1244.3000000000002" font-family="Liberation Sans" font-size="3.5" font-weight="normal" fill="#2a2a2a" text-anchor="end" >GF</text>
<circle cx="576.7" cy="1240.4" r="1.45" fill="#0000cd"/>
<text x="537.2" y="1257.6000000000001" font-family="Liberation Sans" font-size="3.5" font-weight="normal" fill="#2a2a2a" text-anchor="start" >LP</text>
<circle cx="535.6" cy="1259.9" r="1.45" fill="#0000cd"/>
<rect x="321.2" y="1262.5" width="80.69999999999999" height="17.200000000000045" stroke="#ec4452" stroke-width="1.6" fill="#fff" rx="1"/>
<text x="327.3" y="1274.9" font-family="Liberation Serif" font-size="10.3" font-weight="normal" fill="#333" text-anchor="start" textLength="67.8" lengthAdjust="spacingAndGlyphs" stroke="#333" stroke-width="0.18">R= -0.26, p = 0.24</text>
</svg>
</body></html>
